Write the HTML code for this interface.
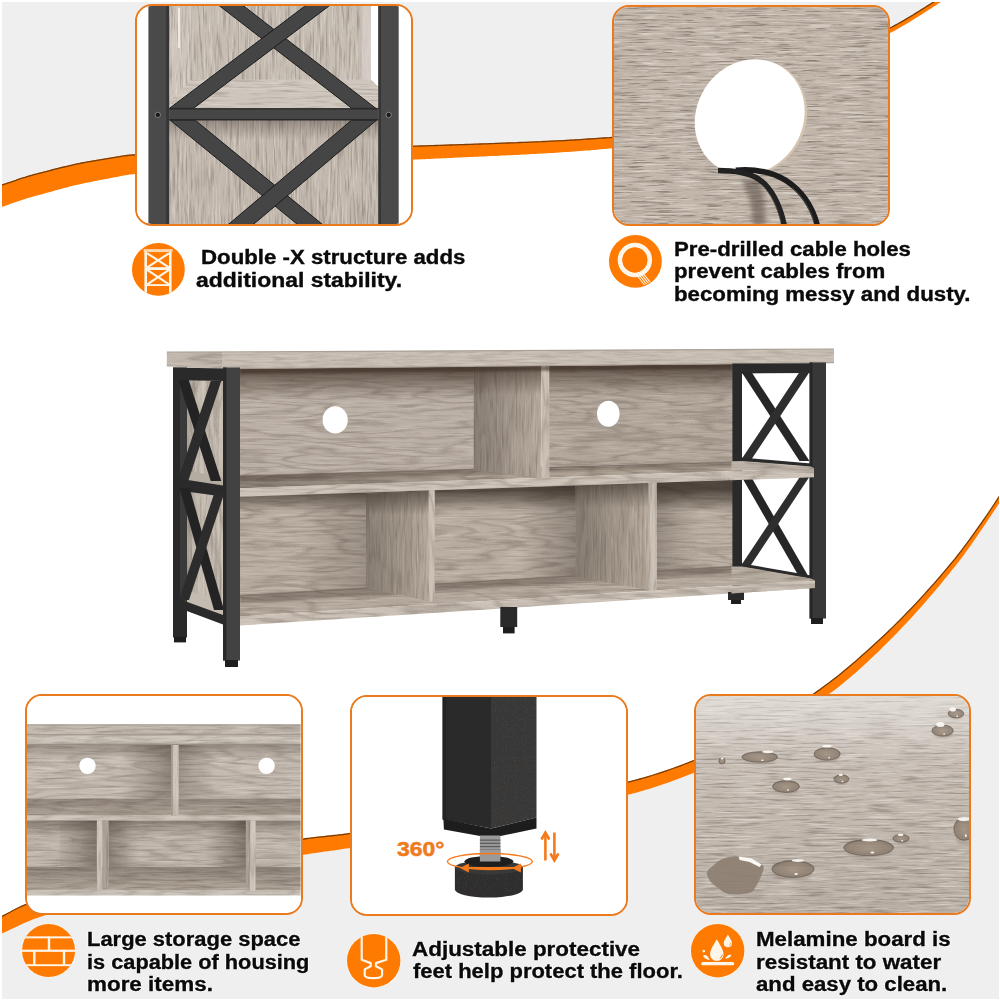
<!DOCTYPE html>
<html><head><meta charset="utf-8"><style>
*{margin:0;padding:0;box-sizing:border-box}
html,body{width:1000px;height:1000px;overflow:hidden;background:#fff}
body{position:relative;font-family:"Liberation Sans",sans-serif}
.abs{position:absolute;display:block}
.panel{position:absolute;border:2.6px solid #ea7a1c;border-radius:17px;overflow:hidden}
.panel>svg{position:absolute;left:-2.6px;top:-2.6px}
.t{position:absolute;white-space:nowrap;font-weight:bold;font-size:20.0px;line-height:20.0px;height:20.0px;color:#0a0a0a;transform-origin:0 0;letter-spacing:0;-webkit-text-stroke:0.35px #0a0a0a;text-shadow:0.8px 0 #fff,-0.8px 0 #fff,0 0.8px #fff,0 -0.8px #fff}
</style></head><body>
<svg width="0" height="0" style="position:absolute"><defs><filter id="grainH" x="0" y="0" width="1" height="1" color-interpolation-filters="sRGB">
 <feTurbulence type="fractalNoise" baseFrequency="0.03 0.45" numOctaves="3" seed="5"/>
 <feColorMatrix type="matrix" values="0 0 0 0 0.33  0 0 0 0 0.29  0 0 0 0 0.26  -3.0 0 0 0 1.55"/>
 <feComposite in2="SourceAlpha" operator="in"/>
</filter><filter id="grainH2" x="0" y="0" width="1" height="1" color-interpolation-filters="sRGB">
 <feTurbulence type="fractalNoise" baseFrequency="0.03 0.5" numOctaves="3" seed="11"/>
 <feColorMatrix type="matrix" values="0 0 0 0 0.36  0 0 0 0 0.32  0 0 0 0 0.28  -3.0 0 0 0 1.55"/>
 <feComposite in2="SourceAlpha" operator="in"/>
</filter><filter id="flecks" x="0" y="0" width="1" height="1" color-interpolation-filters="sRGB">
 <feTurbulence type="fractalNoise" baseFrequency="0.03 0.6" numOctaves="4" seed="2"/>
 <feColorMatrix type="matrix" values="0 0 0 0 0.97  0 0 0 0 0.95  0 0 0 0 0.92  3.0 0 0 0 -1.5"/>
 <feComposite in2="SourceAlpha" operator="in"/>
</filter><filter id="flecks2" x="0" y="0" width="1" height="1" color-interpolation-filters="sRGB">
 <feTurbulence type="fractalNoise" baseFrequency="0.04 0.7" numOctaves="4" seed="9"/>
 <feColorMatrix type="matrix" values="0 0 0 0 0.97  0 0 0 0 0.95  0 0 0 0 0.92  3.0 0 0 0 -1.5"/>
 <feComposite in2="SourceAlpha" operator="in"/>
</filter><filter id="grainV" x="0" y="0" width="1" height="1" color-interpolation-filters="sRGB">
 <feTurbulence type="fractalNoise" baseFrequency="0.45 0.03" numOctaves="3" seed="3"/>
 <feColorMatrix type="matrix" values="0 0 0 0 0.33  0 0 0 0 0.29  0 0 0 0 0.26  -3.0 0 0 0 1.55"/>
 <feComposite in2="SourceAlpha" operator="in"/>
</filter><filter id="flecksV" x="0" y="0" width="1" height="1" color-interpolation-filters="sRGB">
 <feTurbulence type="fractalNoise" baseFrequency="0.6 0.03" numOctaves="4" seed="4"/>
 <feColorMatrix type="matrix" values="0 0 0 0 0.97  0 0 0 0 0.95  0 0 0 0 0.92  3.0 0 0 0 -1.5"/>
 <feComposite in2="SourceAlpha" operator="in"/>
</filter><filter id="mottle" x="0" y="0" width="1" height="1" color-interpolation-filters="sRGB">
 <feTurbulence type="fractalNoise" baseFrequency="0.03 0.05" numOctaves="4" seed="7"/>
 <feColorMatrix type="matrix" values="0 0 0 0 0.25  0 0 0 0 0.22  0 0 0 0 0.19  -2.0 0 0 0 1.1"/>
 <feComposite in2="SourceAlpha" operator="in"/>
</filter><filter id="streak" x="0" y="0" width="1" height="1" color-interpolation-filters="sRGB">
 <feTurbulence type="fractalNoise" baseFrequency="0.04 0.7" numOctaves="3" seed="17"/>
 <feColorMatrix type="matrix" values="0 0 0 0 0.42  0 0 0 0 0.37  0 0 0 0 0.33  -6.0 0 0 0 2.4"/>
 <feComposite in2="SourceAlpha" operator="in"/>
</filter><filter id="figH" x="0" y="0" width="1" height="1" color-interpolation-filters="sRGB"><feTurbulence type="fractalNoise" baseFrequency="0.004 0.03" numOctaves="4" seed="9"/><feColorMatrix type="matrix" values="0 0 0 0 0.33  0 0 0 0 0.28  0 0 0 0 0.24  1 0 0 0 0"/><feComponentTransfer><feFuncA type="table" tableValues="0 0.7 0.1 0 0 0.7 0.1 0 0 0.7 0.1 0 0 0.7 0.1 0 0 0.7 0.1 0 0 0.7 0.1 0 0 0.7 0.1 0 0"/></feComponentTransfer><feComposite in2="SourceAlpha" operator="in"/></filter><filter id="figH2" x="0" y="0" width="1" height="1" color-interpolation-filters="sRGB"><feTurbulence type="fractalNoise" baseFrequency="0.005 0.035" numOctaves="4" seed="21"/><feColorMatrix type="matrix" values="0 0 0 0 0.33  0 0 0 0 0.28  0 0 0 0 0.24  1 0 0 0 0"/><feComponentTransfer><feFuncA type="table" tableValues="0 0.7 0.1 0 0 0.7 0.1 0 0 0.7 0.1 0 0 0.7 0.1 0 0 0.7 0.1 0 0 0.7 0.1 0 0 0.7 0.1 0 0"/></feComponentTransfer><feComposite in2="SourceAlpha" operator="in"/></filter><filter id="figV" x="0" y="0" width="1" height="1" color-interpolation-filters="sRGB"><feTurbulence type="fractalNoise" baseFrequency="0.03 0.004" numOctaves="4" seed="13"/><feColorMatrix type="matrix" values="0 0 0 0 0.33  0 0 0 0 0.28  0 0 0 0 0.24  1 0 0 0 0"/><feComponentTransfer><feFuncA type="table" tableValues="0 0.7 0.1 0 0 0.7 0.1 0 0 0.7 0.1 0 0 0.7 0.1 0 0 0.7 0.1 0 0 0.7 0.1 0 0 0.7 0.1 0 0"/></feComponentTransfer><feComposite in2="SourceAlpha" operator="in"/></filter><filter id="speck" x="0" y="0" width="1" height="1" color-interpolation-filters="sRGB"><feTurbulence type="fractalNoise" baseFrequency="0.9" numOctaves="2" seed="4"/><feColorMatrix type="matrix" values="0 0 0 0 0.55  0 0 0 0 0.40  0 0 0 0 0.30  4 0 0 0 -2.3"/><feComposite in2="SourceAlpha" operator="in"/></filter><filter id="blur2" x="-50%" y="-50%" width="200%" height="200%"><feGaussianBlur stdDeviation="2.5"/></filter><filter id="blur1" x="-50%" y="-50%" width="200%" height="200%"><feGaussianBlur stdDeviation="1.2"/></filter><filter id="blur4" x="-50%" y="-50%" width="200%" height="200%"><feGaussianBlur stdDeviation="4"/></filter>
<linearGradient id="shadeDown" x1="0" y1="0" x2="0" y2="1"><stop offset="0" stop-color="#3d342c" stop-opacity="0.55"/><stop offset="1" stop-color="#3d342c" stop-opacity="0"/></linearGradient>
<linearGradient id="shadeLeft" x1="1" y1="0" x2="0" y2="0"><stop offset="0" stop-color="#3d342c" stop-opacity="0.5"/><stop offset="1" stop-color="#3d342c" stop-opacity="0"/></linearGradient>
</defs></svg>
<svg class="abs" width="1000" height="1000" viewBox="0 0 1000 1000" style="left:0;top:0">
<defs><clipPath id="inner"><rect x="2" y="2" width="997" height="997"/></clipPath></defs>
<g clip-path="url(#inner)">
<path d="M-5.0,186.5 L-2.0,185.6 L1.0,184.8 L4.0,183.8 L7.0,182.8 L10.0,181.8 L13.0,180.8 L16.0,179.8 L19.0,178.7 L22.0,177.7 L25.0,176.8 L28.0,175.8 L31.0,175.0 L34.0,174.1 L37.0,173.4 L40.0,172.6 L43.0,171.8 L46.0,171.1 L49.0,170.3 L52.0,169.5 L55.0,168.7 L58.0,168.0 L61.0,167.2 L64.0,166.5 L67.0,165.8 L70.0,165.1 L73.0,164.4 L76.0,163.7 L79.0,163.1 L82.0,162.5 L85.0,161.9 L88.0,161.3 L91.0,160.8 L94.0,160.3 L97.0,159.8 L100.0,159.3 L103.0,158.8 L106.0,158.3 L109.0,157.8 L112.0,157.3 L115.0,156.8 L118.0,156.3 L121.0,155.8 L124.0,155.4 L127.0,155.0 L130.0,154.7 L133.0,154.5 L136.0,154.3 L139.0,154.1 L142.0,153.9 L145.0,153.8 L148.0,153.6 L151.0,153.4 L154.0,153.3 L157.0,153.1 L160.0,153.0 L163.0,152.8 L166.0,152.7 L169.0,152.5 L172.0,152.4 L175.0,152.3 L178.0,152.1 L181.0,152.0 L184.0,151.9 L187.0,151.8 L190.0,151.6 L193.0,151.5 L196.0,151.4 L199.0,151.3 L202.0,151.2 L205.0,151.1 L208.0,151.0 L211.0,150.9 L214.0,150.8 L217.0,150.7 L220.0,150.6 L223.0,150.5 L226.0,150.4 L229.0,150.3 L232.0,150.3 L235.0,150.2 L238.0,150.1 L241.0,150.0 L244.0,149.9 L247.0,149.9 L250.0,149.8 L253.0,149.7 L256.0,149.6 L259.0,149.6 L262.0,149.5 L265.0,149.4 L268.0,149.4 L271.0,149.3 L274.0,149.2 L277.0,149.2 L280.0,149.1 L283.0,149.0 L286.0,149.0 L289.0,148.9 L292.0,148.8 L295.0,148.8 L298.0,148.7 L301.0,148.7 L304.0,148.6 L307.0,148.5 L310.0,148.5 L313.0,148.4 L316.0,148.4 L319.0,148.3 L322.0,148.2 L325.0,148.2 L328.0,148.1 L331.0,148.0 L334.0,148.0 L337.0,147.9 L340.0,147.8 L343.0,147.8 L346.0,147.7 L349.0,147.6 L352.0,147.6 L355.0,147.5 L358.0,147.4 L361.0,147.3 L364.0,147.3 L367.0,147.2 L370.0,147.1 L373.0,147.0 L376.0,146.9 L379.0,146.9 L382.0,146.8 L385.0,146.7 L388.0,146.6 L391.0,146.5 L394.0,146.4 L397.0,146.3 L400.0,146.2 L403.0,146.1 L406.0,146.0 L409.0,145.9 L412.0,145.8 L415.0,145.7 L418.0,145.6 L421.0,145.5 L424.0,145.4 L427.0,145.3 L430.0,145.2 L433.0,145.1 L436.0,145.0 L439.0,144.9 L442.0,144.8 L445.0,144.7 L448.0,144.6 L451.0,144.5 L454.0,144.4 L457.0,144.3 L460.0,144.2 L463.0,144.1 L466.0,144.0 L469.0,143.9 L472.0,143.8 L475.0,143.7 L478.0,143.6 L481.0,143.5 L484.0,143.4 L487.0,143.3 L490.0,143.2 L493.0,143.1 L496.0,142.9 L499.0,142.8 L502.0,142.7 L505.0,142.6 L508.0,142.5 L511.0,142.4 L514.0,142.3 L517.0,142.2 L520.0,142.0 L523.0,141.9 L526.0,141.8 L529.0,141.7 L532.0,141.6 L535.0,141.4 L538.0,141.3 L541.0,141.2 L544.0,141.0 L547.0,140.9 L550.0,140.7 L553.0,140.6 L556.0,140.4 L559.0,140.3 L562.0,140.1 L565.0,140.0 L568.0,139.8 L571.0,139.6 L574.0,139.5 L577.0,139.3 L580.0,139.1 L583.0,138.9 L586.0,138.7 L589.0,138.5 L592.0,138.3 L595.0,138.1 L598.0,137.9 L601.0,137.7 L604.0,137.5 L607.0,137.3 L610.0,137.1 L613.0,136.8 L616.0,136.6 L619.0,136.3 L622.0,135.9 L625.0,135.6 L628.0,135.2 L631.0,134.7 L634.0,134.3 L637.0,133.8 L640.0,133.3 L643.0,132.7 L646.0,132.1 L649.0,131.5 L652.0,130.9 L655.0,130.2 L658.0,129.5 L661.0,128.8 L664.0,128.0 L667.0,127.3 L670.0,126.5 L673.0,125.6 L676.0,124.8 L679.0,123.9 L682.0,123.0 L685.0,122.1 L688.0,121.1 L691.0,120.2 L694.0,119.2 L697.0,118.2 L700.0,117.1 L703.0,116.1 L706.0,115.0 L709.0,113.9 L712.0,112.8 L715.0,111.7 L718.0,110.5 L721.0,109.3 L724.0,108.1 L727.0,106.9 L730.0,105.7 L733.0,104.5 L736.0,103.2 L739.0,101.9 L742.0,100.6 L745.0,99.3 L748.0,98.0 L751.0,96.7 L754.0,95.3 L757.0,94.0 L760.0,92.6 L763.0,91.2 L766.0,89.8 L769.0,88.4 L772.0,87.0 L775.0,85.6 L778.0,84.1 L781.0,82.7 L784.0,81.2 L787.0,79.8 L790.0,78.3 L793.0,76.8 L796.0,75.3 L799.0,73.8 L802.0,72.3 L805.0,70.8 L808.0,69.3 L811.0,67.8 L814.0,66.3 L817.0,64.8 L820.0,63.2 L823.0,61.7 L826.0,60.2 L829.0,58.6 L832.0,57.1 L835.0,55.5 L838.0,54.0 L841.0,52.4 L844.0,50.9 L847.0,49.4 L850.0,47.8 L853.0,46.3 L856.0,44.7 L859.0,43.2 L862.0,41.6 L865.0,40.1 L868.0,38.6 L871.0,37.1 L874.0,35.5 L877.0,34.0 L880.0,32.5 L883.0,31.0 L886.0,29.5 L889.0,28.0 L892.0,26.5 L895.0,24.9 L898.0,23.3 L901.0,21.6 L904.0,19.9 L907.0,18.1 L910.0,16.3 L913.0,14.5 L916.0,12.6 L919.0,10.8 L922.0,8.9 L925.0,7.0 L928.0,5.1 L931.0,3.2 L934.0,1.3 L937.0,-0.6 L940.0,-2.6 L943.0,-4.5 L946.0,-6.5 L949.0,-8.5 L952.0,-10.5 L955.0,-12.6 L958.0,-14.6 L960.0,-16.0 L960,-20 L-5,-20 Z" fill="#efefef"/>
<path d="M-5.0,186.5 L-2.0,185.6 L1.0,184.8 L4.0,183.8 L7.0,182.8 L10.0,181.8 L13.0,180.8 L16.0,179.8 L19.0,178.7 L22.0,177.7 L25.0,176.8 L28.0,175.8 L31.0,175.0 L34.0,174.1 L37.0,173.4 L40.0,172.6 L43.0,171.8 L46.0,171.1 L49.0,170.3 L52.0,169.5 L55.0,168.7 L58.0,168.0 L61.0,167.2 L64.0,166.5 L67.0,165.8 L70.0,165.1 L73.0,164.4 L76.0,163.7 L79.0,163.1 L82.0,162.5 L85.0,161.9 L88.0,161.3 L91.0,160.8 L94.0,160.3 L97.0,159.8 L100.0,159.3 L103.0,158.8 L106.0,158.3 L109.0,157.8 L112.0,157.3 L115.0,156.8 L118.0,156.3 L121.0,155.8 L124.0,155.4 L127.0,155.0 L130.0,154.7 L133.0,154.5 L136.0,154.3 L139.0,154.1 L142.0,153.9 L145.0,153.8 L148.0,153.6 L151.0,153.4 L154.0,153.3 L157.0,153.1 L160.0,153.0 L163.0,152.8 L166.0,152.7 L169.0,152.5 L172.0,152.4 L175.0,152.3 L178.0,152.1 L181.0,152.0 L184.0,151.9 L187.0,151.8 L190.0,151.6 L193.0,151.5 L196.0,151.4 L199.0,151.3 L202.0,151.2 L205.0,151.1 L208.0,151.0 L211.0,150.9 L214.0,150.8 L217.0,150.7 L220.0,150.6 L223.0,150.5 L226.0,150.4 L229.0,150.3 L232.0,150.3 L235.0,150.2 L238.0,150.1 L241.0,150.0 L244.0,149.9 L247.0,149.9 L250.0,149.8 L253.0,149.7 L256.0,149.6 L259.0,149.6 L262.0,149.5 L265.0,149.4 L268.0,149.4 L271.0,149.3 L274.0,149.2 L277.0,149.2 L280.0,149.1 L283.0,149.0 L286.0,149.0 L289.0,148.9 L292.0,148.8 L295.0,148.8 L298.0,148.7 L301.0,148.7 L304.0,148.6 L307.0,148.5 L310.0,148.5 L313.0,148.4 L316.0,148.4 L319.0,148.3 L322.0,148.2 L325.0,148.2 L328.0,148.1 L331.0,148.0 L334.0,148.0 L337.0,147.9 L340.0,147.8 L343.0,147.8 L346.0,147.7 L349.0,147.6 L352.0,147.6 L355.0,147.5 L358.0,147.4 L361.0,147.3 L364.0,147.3 L367.0,147.2 L370.0,147.1 L373.0,147.0 L376.0,146.9 L379.0,146.9 L382.0,146.8 L385.0,146.7 L388.0,146.6 L391.0,146.5 L394.0,146.4 L397.0,146.3 L400.0,146.2 L403.0,146.1 L406.0,146.0 L409.0,145.9 L412.0,145.8 L415.0,145.7 L418.0,145.6 L421.0,145.5 L424.0,145.4 L427.0,145.3 L430.0,145.2 L433.0,145.1 L436.0,145.0 L439.0,144.9 L442.0,144.8 L445.0,144.7 L448.0,144.6 L451.0,144.5 L454.0,144.4 L457.0,144.3 L460.0,144.2 L463.0,144.1 L466.0,144.0 L469.0,143.9 L472.0,143.8 L475.0,143.7 L478.0,143.6 L481.0,143.5 L484.0,143.4 L487.0,143.3 L490.0,143.2 L493.0,143.1 L496.0,142.9 L499.0,142.8 L502.0,142.7 L505.0,142.6 L508.0,142.5 L511.0,142.4 L514.0,142.3 L517.0,142.2 L520.0,142.0 L523.0,141.9 L526.0,141.8 L529.0,141.7 L532.0,141.6 L535.0,141.4 L538.0,141.3 L541.0,141.2 L544.0,141.0 L547.0,140.9 L550.0,140.7 L553.0,140.6 L556.0,140.4 L559.0,140.3 L562.0,140.1 L565.0,140.0 L568.0,139.8 L571.0,139.6 L574.0,139.5 L577.0,139.3 L580.0,139.1 L583.0,138.9 L586.0,138.7 L589.0,138.5 L592.0,138.3 L595.0,138.1 L598.0,137.9 L601.0,137.7 L604.0,137.5 L607.0,137.3 L610.0,137.1 L613.0,136.8 L616.0,136.6 L619.0,136.3 L622.0,135.9 L625.0,135.6 L628.0,135.2 L631.0,134.7 L634.0,134.3 L637.0,133.8 L640.0,133.3 L643.0,132.7 L646.0,132.1 L649.0,131.5 L652.0,130.9 L655.0,130.2 L658.0,129.5 L661.0,128.8 L664.0,128.0 L667.0,127.3 L670.0,126.5 L673.0,125.6 L676.0,124.8 L679.0,123.9 L682.0,123.0 L685.0,122.1 L688.0,121.1 L691.0,120.2 L694.0,119.2 L697.0,118.2 L700.0,117.1 L703.0,116.1 L706.0,115.0 L709.0,113.9 L712.0,112.8 L715.0,111.7 L718.0,110.5 L721.0,109.3 L724.0,108.1 L727.0,106.9 L730.0,105.7 L733.0,104.5 L736.0,103.2 L739.0,101.9 L742.0,100.6 L745.0,99.3 L748.0,98.0 L751.0,96.7 L754.0,95.3 L757.0,94.0 L760.0,92.6 L763.0,91.2 L766.0,89.8 L769.0,88.4 L772.0,87.0 L775.0,85.6 L778.0,84.1 L781.0,82.7 L784.0,81.2 L787.0,79.8 L790.0,78.3 L793.0,76.8 L796.0,75.3 L799.0,73.8 L802.0,72.3 L805.0,70.8 L808.0,69.3 L811.0,67.8 L814.0,66.3 L817.0,64.8 L820.0,63.2 L823.0,61.7 L826.0,60.2 L829.0,58.6 L832.0,57.1 L835.0,55.5 L838.0,54.0 L841.0,52.4 L844.0,50.9 L847.0,49.4 L850.0,47.8 L853.0,46.3 L856.0,44.7 L859.0,43.2 L862.0,41.6 L865.0,40.1 L868.0,38.6 L871.0,37.1 L874.0,35.5 L877.0,34.0 L880.0,32.5 L883.0,31.0 L886.0,29.5 L889.0,28.0 L892.0,26.5 L895.0,24.9 L898.0,23.3 L901.0,21.6 L904.0,19.9 L907.0,18.1 L910.0,16.3 L913.0,14.5 L916.0,12.6 L919.0,10.8 L922.0,8.9 L925.0,7.0 L928.0,5.1 L931.0,3.2 L934.0,1.3 L937.0,-0.6 L940.0,-2.6 L943.0,-4.5 L946.0,-6.5 L949.0,-8.5 L952.0,-10.5 L955.0,-12.6 L958.0,-14.6 L960.0,-16.0 L968.0,-16.0 L967.0,-15.3 L964.0,-13.3 L961.0,-11.2 L958.0,-9.2 L955.0,-7.2 L952.0,-5.2 L949.0,-3.2 L946.0,-1.3 L943.0,0.6 L940.0,2.6 L937.0,4.5 L934.0,6.5 L931.0,8.4 L928.0,10.3 L925.0,12.3 L922.0,14.2 L919.0,16.1 L916.0,18.0 L913.0,19.8 L910.0,21.7 L907.0,23.5 L904.0,25.3 L901.0,27.0 L898.0,28.7 L895.0,30.4 L892.0,32.0 L889.0,33.6 L886.0,35.1 L883.0,36.7 L880.0,38.3 L877.0,39.8 L874.0,41.4 L871.0,43.0 L868.0,44.6 L865.0,46.2 L862.0,47.7 L859.0,49.3 L856.0,50.9 L853.0,52.5 L850.0,54.1 L847.0,55.7 L844.0,57.3 L841.0,58.9 L838.0,60.5 L835.0,62.2 L832.0,63.8 L829.0,65.4 L826.0,67.0 L823.0,68.6 L820.0,70.1 L817.0,71.7 L814.0,73.3 L811.0,74.9 L808.0,76.5 L805.0,78.1 L802.0,79.6 L799.0,81.2 L796.0,82.8 L793.0,84.3 L790.0,85.9 L787.0,87.4 L784.0,88.9 L781.0,90.4 L778.0,91.9 L775.0,93.5 L772.0,94.9 L769.0,96.4 L766.0,97.9 L763.0,99.4 L760.0,100.8 L757.0,102.2 L754.0,103.7 L751.0,105.1 L748.0,106.5 L745.0,107.9 L742.0,109.2 L739.0,110.6 L736.0,111.9 L733.0,113.2 L730.0,114.5 L727.0,115.8 L724.0,117.1 L721.0,118.4 L718.0,119.6 L715.0,120.8 L712.0,122.0 L709.0,123.2 L706.0,124.4 L703.0,125.5 L700.0,126.6 L697.0,127.7 L694.0,128.8 L691.0,129.9 L688.0,130.9 L685.0,131.9 L682.0,132.9 L679.0,133.9 L676.0,134.8 L673.0,135.7 L670.0,136.6 L667.0,137.5 L664.0,138.3 L661.0,139.1 L658.0,139.9 L655.0,140.7 L652.0,141.4 L649.0,142.1 L646.0,142.8 L643.0,143.4 L640.0,144.1 L637.0,144.6 L634.0,145.2 L631.0,145.7 L628.0,146.2 L625.0,146.7 L622.0,147.1 L619.0,147.5 L616.0,147.9 L613.0,148.2 L610.0,148.5 L607.0,148.8 L604.0,149.1 L601.0,149.3 L598.0,149.6 L595.0,149.9 L592.0,150.1 L589.0,150.4 L586.0,150.6 L583.0,150.8 L580.0,151.1 L577.0,151.3 L574.0,151.5 L571.0,151.7 L568.0,151.9 L565.0,152.1 L562.0,152.3 L559.0,152.5 L556.0,152.7 L553.0,152.9 L550.0,153.1 L547.0,153.3 L544.0,153.4 L541.0,153.6 L538.0,153.8 L535.0,153.9 L532.0,154.1 L529.0,154.3 L526.0,154.4 L523.0,154.6 L520.0,154.7 L517.0,154.9 L514.0,155.0 L511.0,155.2 L508.0,155.3 L505.0,155.5 L502.0,155.6 L499.0,155.7 L496.0,155.9 L493.0,156.0 L490.0,156.1 L487.0,156.3 L484.0,156.4 L481.0,156.5 L478.0,156.7 L475.0,156.8 L472.0,156.9 L469.0,157.1 L466.0,157.2 L463.0,157.3 L460.0,157.5 L457.0,157.6 L454.0,157.7 L451.0,157.9 L448.0,158.0 L445.0,158.2 L442.0,158.3 L439.0,158.4 L436.0,158.6 L433.0,158.7 L430.0,158.9 L427.0,159.0 L424.0,159.2 L421.0,159.3 L418.0,159.5 L415.0,159.6 L412.0,159.8 L409.0,160.0 L406.0,160.1 L403.0,160.3 L400.0,160.4 L397.0,160.6 L394.0,160.7 L391.0,160.9 L388.0,161.0 L385.0,161.2 L382.0,161.3 L379.0,161.4 L376.0,161.6 L373.0,161.7 L370.0,161.8 L367.0,162.0 L364.0,162.1 L361.0,162.2 L358.0,162.3 L355.0,162.5 L352.0,162.6 L349.0,162.7 L346.0,162.8 L343.0,162.9 L340.0,163.1 L337.0,163.2 L334.0,163.3 L331.0,163.4 L328.0,163.5 L325.0,163.6 L322.0,163.8 L319.0,163.9 L316.0,164.0 L313.0,164.1 L310.0,164.2 L307.0,164.3 L304.0,164.4 L301.0,164.6 L298.0,164.7 L295.0,164.8 L292.0,164.9 L289.0,165.0 L286.0,165.1 L283.0,165.3 L280.0,165.4 L277.0,165.5 L274.0,165.6 L271.0,165.7 L268.0,165.9 L265.0,166.0 L262.0,166.1 L259.0,166.2 L256.0,166.4 L253.0,166.5 L250.0,166.6 L247.0,166.8 L244.0,166.9 L241.0,167.1 L238.0,167.2 L235.0,167.3 L232.0,167.5 L229.0,167.6 L226.0,167.8 L223.0,167.9 L220.0,168.1 L217.0,168.3 L214.0,168.4 L211.0,168.6 L208.0,168.8 L205.0,168.9 L202.0,169.1 L199.0,169.3 L196.0,169.5 L193.0,169.7 L190.0,169.8 L187.0,170.0 L184.0,170.2 L181.0,170.4 L178.0,170.6 L175.0,170.9 L172.0,171.1 L169.0,171.3 L166.0,171.5 L163.0,171.7 L160.0,172.0 L157.0,172.2 L154.0,172.5 L151.0,172.7 L148.0,173.0 L145.0,173.2 L142.0,173.5 L139.0,173.7 L136.0,174.0 L133.0,174.3 L130.0,174.6 L127.0,175.1 L124.0,175.6 L121.0,176.1 L118.0,176.7 L115.0,177.2 L112.0,177.8 L109.0,178.4 L106.0,179.0 L103.0,179.6 L100.0,180.1 L97.0,180.7 L94.0,181.3 L91.0,181.9 L88.0,182.5 L85.0,183.1 L82.0,183.8 L79.0,184.4 L76.0,185.1 L73.0,185.8 L70.0,186.6 L67.0,187.4 L64.0,188.1 L61.0,188.9 L58.0,189.8 L55.0,190.6 L52.0,191.4 L49.0,192.2 L46.0,193.1 L43.0,193.9 L40.0,194.7 L37.0,195.5 L34.0,196.3 L31.0,197.2 L28.0,198.1 L25.0,199.1 L22.0,200.0 L19.0,201.0 L16.0,202.1 L13.0,203.1 L10.0,204.1 L7.0,205.2 L4.0,206.2 L1.0,207.2 L-2.0,208.3 L-5.0,209.3 Z" fill="#ff7a00"/>
<path d="M-5.0,186.5 L-2.0,185.6 L1.0,184.8 L4.0,183.8 L7.0,182.8 L10.0,181.8 L13.0,180.8 L16.0,179.8 L19.0,178.7 L22.0,177.7 L25.0,176.8 L28.0,175.8 L31.0,175.0 L34.0,174.1 L37.0,173.4 L40.0,172.6 L43.0,171.8 L46.0,171.1 L49.0,170.3 L52.0,169.5 L55.0,168.7 L58.0,168.0 L61.0,167.2 L64.0,166.5 L67.0,165.8 L70.0,165.1 L73.0,164.4 L76.0,163.7 L79.0,163.1 L82.0,162.5 L85.0,161.9 L88.0,161.3 L91.0,160.8 L94.0,160.3 L97.0,159.8 L100.0,159.3 L103.0,158.8 L106.0,158.3 L109.0,157.8 L112.0,157.3 L115.0,156.8 L118.0,156.3 L121.0,155.8 L124.0,155.4 L127.0,155.0 L130.0,154.7 L133.0,154.5 L136.0,154.3 L139.0,154.1 L142.0,153.9 L145.0,153.8 L148.0,153.6 L151.0,153.4 L154.0,153.3 L157.0,153.1 L160.0,153.0 L163.0,152.8 L166.0,152.7 L169.0,152.5 L172.0,152.4 L175.0,152.3 L178.0,152.1 L181.0,152.0 L184.0,151.9 L187.0,151.8 L190.0,151.6 L193.0,151.5 L196.0,151.4 L199.0,151.3 L202.0,151.2 L205.0,151.1 L208.0,151.0 L211.0,150.9 L214.0,150.8 L217.0,150.7 L220.0,150.6 L223.0,150.5 L226.0,150.4 L229.0,150.3 L232.0,150.3 L235.0,150.2 L238.0,150.1 L241.0,150.0 L244.0,149.9 L247.0,149.9 L250.0,149.8 L253.0,149.7 L256.0,149.6 L259.0,149.6 L262.0,149.5 L265.0,149.4 L268.0,149.4 L271.0,149.3 L274.0,149.2 L277.0,149.2 L280.0,149.1 L283.0,149.0 L286.0,149.0 L289.0,148.9 L292.0,148.8 L295.0,148.8 L298.0,148.7 L301.0,148.7 L304.0,148.6 L307.0,148.5 L310.0,148.5 L313.0,148.4 L316.0,148.4 L319.0,148.3 L322.0,148.2 L325.0,148.2 L328.0,148.1 L331.0,148.0 L334.0,148.0 L337.0,147.9 L340.0,147.8 L343.0,147.8 L346.0,147.7 L349.0,147.6 L352.0,147.6 L355.0,147.5 L358.0,147.4 L361.0,147.3 L364.0,147.3 L367.0,147.2 L370.0,147.1 L373.0,147.0 L376.0,146.9 L379.0,146.9 L382.0,146.8 L385.0,146.7 L388.0,146.6 L391.0,146.5 L394.0,146.4 L397.0,146.3 L400.0,146.2 L403.0,146.1 L406.0,146.0 L409.0,145.9 L412.0,145.8 L415.0,145.7 L418.0,145.6 L421.0,145.5 L424.0,145.4 L427.0,145.3 L430.0,145.2 L433.0,145.1 L436.0,145.0 L439.0,144.9 L442.0,144.8 L445.0,144.7 L448.0,144.6 L451.0,144.5 L454.0,144.4 L457.0,144.3 L460.0,144.2 L463.0,144.1 L466.0,144.0 L469.0,143.9 L472.0,143.8 L475.0,143.7 L478.0,143.6 L481.0,143.5 L484.0,143.4 L487.0,143.3 L490.0,143.2 L493.0,143.1 L496.0,142.9 L499.0,142.8 L502.0,142.7 L505.0,142.6 L508.0,142.5 L511.0,142.4 L514.0,142.3 L517.0,142.2 L520.0,142.0 L523.0,141.9 L526.0,141.8 L529.0,141.7 L532.0,141.6 L535.0,141.4 L538.0,141.3 L541.0,141.2 L544.0,141.0 L547.0,140.9 L550.0,140.7 L553.0,140.6 L556.0,140.4 L559.0,140.3 L562.0,140.1 L565.0,140.0 L568.0,139.8 L571.0,139.6 L574.0,139.5 L577.0,139.3 L580.0,139.1 L583.0,138.9 L586.0,138.7 L589.0,138.5 L592.0,138.3 L595.0,138.1 L598.0,137.9 L601.0,137.7 L604.0,137.5 L607.0,137.3 L610.0,137.1 L613.0,136.8 L616.0,136.6 L619.0,136.3 L622.0,135.9 L625.0,135.6 L628.0,135.2 L631.0,134.7 L634.0,134.3 L637.0,133.8 L640.0,133.3 L643.0,132.7 L646.0,132.1 L649.0,131.5 L652.0,130.9 L655.0,130.2 L658.0,129.5 L661.0,128.8 L664.0,128.0 L667.0,127.3 L670.0,126.5 L673.0,125.6 L676.0,124.8 L679.0,123.9 L682.0,123.0 L685.0,122.1 L688.0,121.1 L691.0,120.2 L694.0,119.2 L697.0,118.2 L700.0,117.1 L703.0,116.1 L706.0,115.0 L709.0,113.9 L712.0,112.8 L715.0,111.7 L718.0,110.5 L721.0,109.3 L724.0,108.1 L727.0,106.9 L730.0,105.7 L733.0,104.5 L736.0,103.2 L739.0,101.9 L742.0,100.6 L745.0,99.3 L748.0,98.0 L751.0,96.7 L754.0,95.3 L757.0,94.0 L760.0,92.6 L763.0,91.2 L766.0,89.8 L769.0,88.4 L772.0,87.0 L775.0,85.6 L778.0,84.1 L781.0,82.7 L784.0,81.2 L787.0,79.8 L790.0,78.3 L793.0,76.8 L796.0,75.3 L799.0,73.8 L802.0,72.3 L805.0,70.8 L808.0,69.3 L811.0,67.8 L814.0,66.3 L817.0,64.8 L820.0,63.2 L823.0,61.7 L826.0,60.2 L829.0,58.6 L832.0,57.1 L835.0,55.5 L838.0,54.0 L841.0,52.4 L844.0,50.9 L847.0,49.4 L850.0,47.8 L853.0,46.3 L856.0,44.7 L859.0,43.2 L862.0,41.6 L865.0,40.1 L868.0,38.6 L871.0,37.1 L874.0,35.5 L877.0,34.0 L880.0,32.5 L883.0,31.0 L886.0,29.5 L889.0,28.0 L892.0,26.5 L895.0,24.9 L898.0,23.3 L901.0,21.6 L904.0,19.9 L907.0,18.1 L910.0,16.3 L913.0,14.5 L916.0,12.6 L919.0,10.8 L922.0,8.9 L925.0,7.0 L928.0,5.1 L931.0,3.2 L934.0,1.3 L937.0,-0.6 L940.0,-2.6 L943.0,-4.5 L946.0,-6.5 L949.0,-8.5 L952.0,-10.5 L955.0,-12.6 L958.0,-14.6 L960.0,-16.0" fill="none" stroke="#7a3d08" stroke-width="1.3" transform="translate(0,0.5)"/>
<path d="M-5.0,937.0 L-2.0,935.5 L1.0,934.0 L4.0,932.6 L7.0,931.2 L10.0,929.7 L13.0,928.3 L16.0,926.9 L19.0,925.5 L22.0,924.1 L25.0,922.8 L28.0,921.5 L31.0,920.3 L34.0,919.1 L37.0,918.0 L40.0,917.0 L43.0,916.0 L46.0,915.0 L49.0,914.1 L52.0,913.1 L55.0,912.1 L58.0,911.2 L61.0,910.3 L64.0,909.3 L67.0,908.4 L70.0,907.5 L73.0,906.6 L76.0,905.7 L79.0,904.8 L82.0,903.9 L85.0,903.0 L88.0,902.2 L91.0,901.3 L94.0,900.4 L97.0,899.6 L100.0,898.8 L103.0,897.9 L106.0,897.1 L109.0,896.3 L112.0,895.5 L115.0,894.7 L118.0,893.9 L121.0,893.1 L124.0,892.3 L127.0,891.5 L130.0,890.8 L133.0,890.0 L136.0,889.2 L139.0,888.5 L142.0,887.7 L145.0,887.0 L148.0,886.3 L151.0,885.5 L154.0,884.8 L157.0,884.1 L160.0,883.4 L163.0,882.7 L166.0,882.0 L169.0,881.3 L172.0,880.6 L175.0,879.9 L178.0,879.2 L181.0,878.6 L184.0,877.9 L187.0,877.2 L190.0,876.6 L193.0,875.9 L196.0,875.3 L199.0,874.7 L202.0,874.0 L205.0,873.4 L208.0,872.8 L211.0,872.1 L214.0,871.5 L217.0,870.9 L220.0,870.3 L223.0,869.7 L226.0,869.1 L229.0,868.5 L232.0,867.9 L235.0,867.3 L238.0,866.7 L241.0,866.1 L244.0,865.6 L247.0,865.0 L250.0,864.4 L253.0,863.9 L256.0,863.3 L259.0,862.7 L262.0,862.2 L265.0,861.6 L268.0,861.1 L271.0,860.5 L274.0,860.0 L277.0,859.5 L280.0,858.9 L283.0,858.4 L286.0,857.9 L289.0,857.3 L292.0,856.8 L295.0,856.3 L298.0,855.8 L301.0,855.2 L304.0,854.7 L307.0,854.2 L310.0,853.8 L313.0,853.3 L316.0,852.9 L319.0,852.4 L322.0,852.0 L325.0,851.6 L328.0,851.2 L331.0,850.8 L334.0,850.4 L337.0,849.9 L340.0,849.5 L343.0,849.1 L346.0,848.6 L349.0,848.2 L352.0,847.7 L355.0,847.2 L358.0,846.7 L361.0,846.2 L364.0,845.7 L367.0,845.3 L370.0,844.8 L373.0,844.3 L376.0,843.8 L379.0,843.3 L382.0,842.9 L385.0,842.4 L388.0,841.9 L391.0,841.4 L394.0,840.9 L397.0,840.4 L400.0,839.9 L403.0,839.5 L406.0,839.0 L409.0,838.5 L412.0,838.0 L415.0,837.5 L418.0,837.0 L421.0,836.5 L424.0,836.0 L427.0,835.5 L430.0,835.0 L433.0,834.5 L436.0,834.0 L439.0,833.5 L442.0,833.0 L445.0,832.5 L448.0,832.0 L451.0,831.5 L454.0,831.0 L457.0,830.4 L460.0,829.9 L463.0,829.4 L466.0,828.9 L469.0,828.3 L472.0,827.8 L475.0,827.3 L478.0,826.8 L481.0,826.2 L484.0,825.7 L487.0,825.1 L490.0,824.6 L493.0,824.0 L496.0,823.5 L499.0,822.9 L502.0,822.4 L505.0,821.8 L508.0,821.2 L511.0,820.7 L514.0,820.1 L517.0,819.5 L520.0,818.9 L523.0,818.3 L526.0,817.8 L529.0,817.2 L532.0,816.6 L535.0,816.0 L538.0,815.4 L541.0,814.8 L544.0,814.1 L547.0,813.5 L550.0,812.9 L553.0,812.3 L556.0,811.6 L559.0,811.0 L562.0,810.3 L565.0,809.7 L568.0,809.0 L571.0,808.4 L574.0,807.7 L577.0,807.1 L580.0,806.4 L583.0,805.7 L586.0,805.0 L589.0,804.3 L592.0,803.6 L595.0,802.9 L598.0,802.2 L601.0,801.5 L604.0,800.8 L607.0,800.1 L610.0,799.3 L613.0,798.6 L616.0,797.8 L619.0,797.1 L622.0,796.3 L625.0,795.6 L628.0,794.8 L631.0,794.0 L634.0,793.2 L637.0,792.4 L640.0,791.5 L643.0,790.7 L646.0,789.8 L649.0,788.9 L652.0,787.9 L655.0,787.0 L658.0,786.0 L661.0,785.0 L664.0,784.0 L667.0,783.0 L670.0,781.9 L673.0,780.8 L676.0,779.7 L679.0,778.6 L682.0,777.5 L685.0,776.3 L688.0,775.1 L691.0,773.9 L694.0,772.7 L697.0,771.4 L700.0,770.2 L703.0,768.9 L706.0,767.5 L709.0,766.2 L712.0,764.8 L715.0,763.4 L718.0,762.0 L721.0,760.5 L724.0,759.0 L727.0,757.5 L730.0,756.0 L733.0,754.4 L736.0,752.9 L739.0,751.3 L742.0,749.6 L745.0,748.0 L748.0,746.3 L751.0,744.6 L754.0,742.9 L757.0,741.2 L760.0,739.4 L763.0,737.7 L766.0,735.9 L769.0,734.1 L772.0,732.2 L775.0,730.4 L778.0,728.5 L781.0,726.6 L784.0,724.7 L787.0,722.8 L790.0,720.9 L793.0,718.9 L796.0,716.9 L799.0,714.9 L802.0,712.9 L805.0,710.9 L808.0,708.9 L811.0,706.8 L814.0,704.7 L817.0,702.6 L820.0,700.5 L823.0,698.4 L826.0,696.3 L829.0,694.1 L832.0,692.0 L835.0,689.7 L838.0,687.4 L841.0,685.0 L844.0,682.6 L847.0,680.1 L850.0,677.6 L853.0,675.0 L856.0,672.4 L859.0,669.7 L862.0,667.0 L865.0,664.2 L868.0,661.4 L871.0,658.6 L874.0,655.8 L877.0,652.9 L880.0,650.0 L883.0,647.1 L886.0,644.1 L889.0,641.1 L892.0,638.1 L895.0,635.0 L898.0,631.9 L901.0,628.8 L904.0,625.6 L907.0,622.4 L910.0,619.2 L913.0,615.9 L916.0,612.6 L919.0,609.3 L922.0,605.9 L925.0,602.5 L928.0,599.0 L931.0,595.5 L934.0,592.0 L937.0,588.5 L940.0,584.9 L943.0,581.2 L946.0,577.6 L949.0,573.9 L952.0,570.1 L955.0,566.4 L958.0,562.6 L961.0,558.7 L964.0,554.7 L967.0,550.6 L970.0,546.4 L973.0,542.1 L976.0,537.7 L979.0,533.3 L982.0,528.9 L985.0,524.4 L988.0,520.0 L991.0,515.6 L994.0,511.0 L997.0,506.5 L1000.0,502.0 L1003.0,497.5 L1006.0,493.0 L1009.0,488.5 L1010.0,487.0 L1010,1010 L-5,1010 Z" fill="#efefef"/>
<path d="M-5.0,919.5 L-2.0,918.0 L1.0,916.5 L4.0,914.9 L7.0,913.3 L10.0,911.7 L13.0,910.0 L16.0,908.5 L19.0,907.0 L22.0,905.6 L25.0,904.4 L28.0,903.3 L31.0,902.2 L34.0,901.2 L37.0,900.1 L40.0,899.1 L43.0,898.1 L46.0,897.1 L49.0,896.1 L52.0,895.1 L55.0,894.1 L58.0,893.1 L61.0,892.2 L64.0,891.2 L67.0,890.3 L70.0,889.3 L73.0,888.4 L76.0,887.5 L79.0,886.6 L82.0,885.7 L85.0,884.8 L88.0,883.9 L91.0,883.0 L94.0,882.2 L97.0,881.3 L100.0,880.4 L103.0,879.6 L106.0,878.8 L109.0,877.9 L112.0,877.1 L115.0,876.3 L118.0,875.5 L121.0,874.7 L124.0,873.9 L127.0,873.1 L130.0,872.4 L133.0,871.6 L136.0,870.8 L139.0,870.1 L142.0,869.3 L145.0,868.6 L148.0,867.9 L151.0,867.2 L154.0,866.4 L157.0,865.7 L160.0,865.0 L163.0,864.3 L166.0,863.6 L169.0,863.0 L172.0,862.3 L175.0,861.6 L178.0,861.0 L181.0,860.3 L184.0,859.7 L187.0,859.0 L190.0,858.4 L193.0,857.8 L196.0,857.1 L199.0,856.5 L202.0,855.9 L205.0,855.3 L208.0,854.7 L211.0,854.1 L214.0,853.5 L217.0,853.0 L220.0,852.4 L223.0,851.8 L226.0,851.3 L229.0,850.7 L232.0,850.2 L235.0,849.6 L238.0,849.1 L241.0,848.5 L244.0,848.0 L247.0,847.5 L250.0,847.0 L253.0,846.5 L256.0,845.9 L259.0,845.4 L262.0,844.9 L265.0,844.5 L268.0,844.0 L271.0,843.5 L274.0,843.0 L277.0,842.5 L280.0,842.1 L283.0,841.6 L286.0,841.1 L289.0,840.7 L292.0,840.2 L295.0,839.8 L298.0,839.3 L301.0,838.9 L304.0,838.5 L307.0,838.0 L310.0,837.7 L313.0,837.3 L316.0,836.9 L319.0,836.6 L322.0,836.3 L325.0,836.0 L328.0,835.6 L331.0,835.3 L334.0,835.0 L337.0,834.7 L340.0,834.3 L343.0,834.0 L346.0,833.6 L349.0,833.2 L352.0,832.8 L355.0,832.4 L358.0,832.0 L361.0,831.6 L364.0,831.2 L367.0,830.8 L370.0,830.3 L373.0,829.9 L376.0,829.5 L379.0,829.1 L382.0,828.6 L385.0,828.2 L388.0,827.8 L391.0,827.3 L394.0,826.9 L397.0,826.4 L400.0,826.0 L403.0,825.5 L406.0,825.1 L409.0,824.6 L412.0,824.2 L415.0,823.7 L418.0,823.3 L421.0,822.8 L424.0,822.3 L427.0,821.8 L430.0,821.4 L433.0,820.9 L436.0,820.4 L439.0,819.9 L442.0,819.4 L445.0,819.0 L448.0,818.5 L451.0,818.0 L454.0,817.5 L457.0,817.0 L460.0,816.5 L463.0,816.0 L466.0,815.4 L469.0,814.9 L472.0,814.4 L475.0,813.9 L478.0,813.4 L481.0,812.8 L484.0,812.3 L487.0,811.8 L490.0,811.2 L493.0,810.7 L496.0,810.1 L499.0,809.6 L502.0,809.0 L505.0,808.5 L508.0,807.9 L511.0,807.3 L514.0,806.8 L517.0,806.2 L520.0,805.6 L523.0,805.0 L526.0,804.4 L529.0,803.8 L532.0,803.2 L535.0,802.6 L538.0,802.0 L541.0,801.4 L544.0,800.8 L547.0,800.2 L550.0,799.6 L553.0,798.9 L556.0,798.3 L559.0,797.7 L562.0,797.0 L565.0,796.4 L568.0,795.7 L571.0,795.1 L574.0,794.4 L577.0,793.8 L580.0,793.1 L583.0,792.4 L586.0,791.7 L589.0,791.0 L592.0,790.4 L595.0,789.7 L598.0,789.0 L601.0,788.3 L604.0,787.6 L607.0,786.8 L610.0,786.1 L613.0,785.4 L616.0,784.7 L619.0,783.9 L622.0,783.2 L625.0,782.5 L628.0,781.7 L631.0,780.9 L634.0,780.1 L637.0,779.3 L640.0,778.5 L643.0,777.7 L646.0,776.8 L649.0,775.9 L652.0,775.0 L655.0,774.0 L658.0,773.1 L661.0,772.1 L664.0,771.1 L667.0,770.1 L670.0,769.0 L673.0,768.0 L676.0,766.9 L679.0,765.8 L682.0,764.7 L685.0,763.5 L688.0,762.4 L691.0,761.2 L694.0,760.0 L697.0,758.8 L700.0,757.5 L703.0,756.2 L706.0,754.9 L709.0,753.6 L712.0,752.2 L715.0,750.9 L718.0,749.5 L721.0,748.0 L724.0,746.6 L727.0,745.1 L730.0,743.6 L733.0,742.0 L736.0,740.5 L739.0,738.9 L742.0,737.3 L745.0,735.7 L748.0,734.0 L751.0,732.4 L754.0,730.7 L757.0,729.0 L760.0,727.3 L763.0,725.5 L766.0,723.8 L769.0,722.0 L772.0,720.2 L775.0,718.3 L778.0,716.5 L781.0,714.7 L784.0,712.8 L787.0,710.9 L790.0,709.0 L793.0,707.1 L796.0,705.1 L799.0,703.2 L802.0,701.2 L805.0,699.2 L808.0,697.2 L811.0,695.2 L814.0,693.2 L817.0,691.1 L820.0,689.0 L823.0,686.8 L826.0,684.6 L829.0,682.4 L832.0,680.1 L835.0,677.7 L838.0,675.4 L841.0,673.0 L844.0,670.5 L847.0,668.0 L850.0,665.5 L853.0,663.0 L856.0,660.4 L859.0,657.8 L862.0,655.1 L865.0,652.5 L868.0,649.8 L871.0,647.1 L874.0,644.3 L877.0,641.6 L880.0,638.8 L883.0,636.0 L886.0,633.2 L889.0,630.3 L892.0,627.4 L895.0,624.4 L898.0,621.5 L901.0,618.5 L904.0,615.4 L907.0,612.3 L910.0,609.2 L913.0,606.1 L916.0,602.9 L919.0,599.7 L922.0,596.4 L925.0,593.1 L928.0,589.8 L931.0,586.4 L934.0,583.1 L937.0,579.6 L940.0,576.2 L943.0,572.7 L946.0,569.1 L949.0,565.5 L952.0,561.9 L955.0,558.3 L958.0,554.5 L961.0,550.7 L964.0,546.7 L967.0,542.7 L970.0,538.6 L973.0,534.4 L976.0,530.2 L979.0,526.0 L982.0,521.7 L985.0,517.4 L988.0,513.0 L991.0,508.5 L994.0,504.0 L997.0,499.4 L1000.0,494.8 L1003.0,490.1 L1006.0,485.4 L1009.0,480.6 L1010.0,479.0 L1010.0,487.0 L1009.0,488.5 L1006.0,493.0 L1003.0,497.5 L1000.0,502.0 L997.0,506.5 L994.0,511.0 L991.0,515.6 L988.0,520.0 L985.0,524.4 L982.0,528.9 L979.0,533.3 L976.0,537.7 L973.0,542.1 L970.0,546.4 L967.0,550.6 L964.0,554.7 L961.0,558.7 L958.0,562.6 L955.0,566.4 L952.0,570.1 L949.0,573.9 L946.0,577.6 L943.0,581.2 L940.0,584.9 L937.0,588.5 L934.0,592.0 L931.0,595.5 L928.0,599.0 L925.0,602.5 L922.0,605.9 L919.0,609.3 L916.0,612.6 L913.0,615.9 L910.0,619.2 L907.0,622.4 L904.0,625.6 L901.0,628.8 L898.0,631.9 L895.0,635.0 L892.0,638.1 L889.0,641.1 L886.0,644.1 L883.0,647.1 L880.0,650.0 L877.0,652.9 L874.0,655.8 L871.0,658.6 L868.0,661.4 L865.0,664.2 L862.0,667.0 L859.0,669.7 L856.0,672.4 L853.0,675.0 L850.0,677.6 L847.0,680.1 L844.0,682.6 L841.0,685.0 L838.0,687.4 L835.0,689.7 L832.0,692.0 L829.0,694.1 L826.0,696.3 L823.0,698.4 L820.0,700.5 L817.0,702.6 L814.0,704.7 L811.0,706.8 L808.0,708.9 L805.0,710.9 L802.0,712.9 L799.0,714.9 L796.0,716.9 L793.0,718.9 L790.0,720.9 L787.0,722.8 L784.0,724.7 L781.0,726.6 L778.0,728.5 L775.0,730.4 L772.0,732.2 L769.0,734.1 L766.0,735.9 L763.0,737.7 L760.0,739.4 L757.0,741.2 L754.0,742.9 L751.0,744.6 L748.0,746.3 L745.0,748.0 L742.0,749.6 L739.0,751.3 L736.0,752.9 L733.0,754.4 L730.0,756.0 L727.0,757.5 L724.0,759.0 L721.0,760.5 L718.0,762.0 L715.0,763.4 L712.0,764.8 L709.0,766.2 L706.0,767.5 L703.0,768.9 L700.0,770.2 L697.0,771.4 L694.0,772.7 L691.0,773.9 L688.0,775.1 L685.0,776.3 L682.0,777.5 L679.0,778.6 L676.0,779.7 L673.0,780.8 L670.0,781.9 L667.0,783.0 L664.0,784.0 L661.0,785.0 L658.0,786.0 L655.0,787.0 L652.0,787.9 L649.0,788.9 L646.0,789.8 L643.0,790.7 L640.0,791.5 L637.0,792.4 L634.0,793.2 L631.0,794.0 L628.0,794.8 L625.0,795.6 L622.0,796.3 L619.0,797.1 L616.0,797.8 L613.0,798.6 L610.0,799.3 L607.0,800.1 L604.0,800.8 L601.0,801.5 L598.0,802.2 L595.0,802.9 L592.0,803.6 L589.0,804.3 L586.0,805.0 L583.0,805.7 L580.0,806.4 L577.0,807.1 L574.0,807.7 L571.0,808.4 L568.0,809.0 L565.0,809.7 L562.0,810.3 L559.0,811.0 L556.0,811.6 L553.0,812.3 L550.0,812.9 L547.0,813.5 L544.0,814.1 L541.0,814.8 L538.0,815.4 L535.0,816.0 L532.0,816.6 L529.0,817.2 L526.0,817.8 L523.0,818.3 L520.0,818.9 L517.0,819.5 L514.0,820.1 L511.0,820.7 L508.0,821.2 L505.0,821.8 L502.0,822.4 L499.0,822.9 L496.0,823.5 L493.0,824.0 L490.0,824.6 L487.0,825.1 L484.0,825.7 L481.0,826.2 L478.0,826.8 L475.0,827.3 L472.0,827.8 L469.0,828.3 L466.0,828.9 L463.0,829.4 L460.0,829.9 L457.0,830.4 L454.0,831.0 L451.0,831.5 L448.0,832.0 L445.0,832.5 L442.0,833.0 L439.0,833.5 L436.0,834.0 L433.0,834.5 L430.0,835.0 L427.0,835.5 L424.0,836.0 L421.0,836.5 L418.0,837.0 L415.0,837.5 L412.0,838.0 L409.0,838.5 L406.0,839.0 L403.0,839.5 L400.0,839.9 L397.0,840.4 L394.0,840.9 L391.0,841.4 L388.0,841.9 L385.0,842.4 L382.0,842.9 L379.0,843.3 L376.0,843.8 L373.0,844.3 L370.0,844.8 L367.0,845.3 L364.0,845.7 L361.0,846.2 L358.0,846.7 L355.0,847.2 L352.0,847.7 L349.0,848.2 L346.0,848.6 L343.0,849.1 L340.0,849.5 L337.0,849.9 L334.0,850.4 L331.0,850.8 L328.0,851.2 L325.0,851.6 L322.0,852.0 L319.0,852.4 L316.0,852.9 L313.0,853.3 L310.0,853.8 L307.0,854.2 L304.0,854.7 L301.0,855.2 L298.0,855.8 L295.0,856.3 L292.0,856.8 L289.0,857.3 L286.0,857.9 L283.0,858.4 L280.0,858.9 L277.0,859.5 L274.0,860.0 L271.0,860.5 L268.0,861.1 L265.0,861.6 L262.0,862.2 L259.0,862.7 L256.0,863.3 L253.0,863.9 L250.0,864.4 L247.0,865.0 L244.0,865.6 L241.0,866.1 L238.0,866.7 L235.0,867.3 L232.0,867.9 L229.0,868.5 L226.0,869.1 L223.0,869.7 L220.0,870.3 L217.0,870.9 L214.0,871.5 L211.0,872.1 L208.0,872.8 L205.0,873.4 L202.0,874.0 L199.0,874.7 L196.0,875.3 L193.0,875.9 L190.0,876.6 L187.0,877.2 L184.0,877.9 L181.0,878.6 L178.0,879.2 L175.0,879.9 L172.0,880.6 L169.0,881.3 L166.0,882.0 L163.0,882.7 L160.0,883.4 L157.0,884.1 L154.0,884.8 L151.0,885.5 L148.0,886.3 L145.0,887.0 L142.0,887.7 L139.0,888.5 L136.0,889.2 L133.0,890.0 L130.0,890.8 L127.0,891.5 L124.0,892.3 L121.0,893.1 L118.0,893.9 L115.0,894.7 L112.0,895.5 L109.0,896.3 L106.0,897.1 L103.0,897.9 L100.0,898.8 L97.0,899.6 L94.0,900.4 L91.0,901.3 L88.0,902.2 L85.0,903.0 L82.0,903.9 L79.0,904.8 L76.0,905.7 L73.0,906.6 L70.0,907.5 L67.0,908.4 L64.0,909.3 L61.0,910.3 L58.0,911.2 L55.0,912.1 L52.0,913.1 L49.0,914.1 L46.0,915.0 L43.0,916.0 L40.0,917.0 L37.0,918.0 L34.0,919.1 L31.0,920.3 L28.0,921.5 L25.0,922.8 L22.0,924.1 L19.0,925.5 L16.0,926.9 L13.0,928.3 L10.0,929.7 L7.0,931.2 L4.0,932.6 L1.0,934.0 L-2.0,935.5 L-5.0,937.0 Z" fill="#ff7a00"/>
<path d="M-5.0,919.5 L-2.0,918.0 L1.0,916.5 L4.0,914.9 L7.0,913.3 L10.0,911.7 L13.0,910.0 L16.0,908.5 L19.0,907.0 L22.0,905.6 L25.0,904.4 L28.0,903.3 L31.0,902.2 L34.0,901.2 L37.0,900.1 L40.0,899.1 L43.0,898.1 L46.0,897.1 L49.0,896.1 L52.0,895.1 L55.0,894.1 L58.0,893.1 L61.0,892.2 L64.0,891.2 L67.0,890.3 L70.0,889.3 L73.0,888.4 L76.0,887.5 L79.0,886.6 L82.0,885.7 L85.0,884.8 L88.0,883.9 L91.0,883.0 L94.0,882.2 L97.0,881.3 L100.0,880.4 L103.0,879.6 L106.0,878.8 L109.0,877.9 L112.0,877.1 L115.0,876.3 L118.0,875.5 L121.0,874.7 L124.0,873.9 L127.0,873.1 L130.0,872.4 L133.0,871.6 L136.0,870.8 L139.0,870.1 L142.0,869.3 L145.0,868.6 L148.0,867.9 L151.0,867.2 L154.0,866.4 L157.0,865.7 L160.0,865.0 L163.0,864.3 L166.0,863.6 L169.0,863.0 L172.0,862.3 L175.0,861.6 L178.0,861.0 L181.0,860.3 L184.0,859.7 L187.0,859.0 L190.0,858.4 L193.0,857.8 L196.0,857.1 L199.0,856.5 L202.0,855.9 L205.0,855.3 L208.0,854.7 L211.0,854.1 L214.0,853.5 L217.0,853.0 L220.0,852.4 L223.0,851.8 L226.0,851.3 L229.0,850.7 L232.0,850.2 L235.0,849.6 L238.0,849.1 L241.0,848.5 L244.0,848.0 L247.0,847.5 L250.0,847.0 L253.0,846.5 L256.0,845.9 L259.0,845.4 L262.0,844.9 L265.0,844.5 L268.0,844.0 L271.0,843.5 L274.0,843.0 L277.0,842.5 L280.0,842.1 L283.0,841.6 L286.0,841.1 L289.0,840.7 L292.0,840.2 L295.0,839.8 L298.0,839.3 L301.0,838.9 L304.0,838.5 L307.0,838.0 L310.0,837.7 L313.0,837.3 L316.0,836.9 L319.0,836.6 L322.0,836.3 L325.0,836.0 L328.0,835.6 L331.0,835.3 L334.0,835.0 L337.0,834.7 L340.0,834.3 L343.0,834.0 L346.0,833.6 L349.0,833.2 L352.0,832.8 L355.0,832.4 L358.0,832.0 L361.0,831.6 L364.0,831.2 L367.0,830.8 L370.0,830.3 L373.0,829.9 L376.0,829.5 L379.0,829.1 L382.0,828.6 L385.0,828.2 L388.0,827.8 L391.0,827.3 L394.0,826.9 L397.0,826.4 L400.0,826.0 L403.0,825.5 L406.0,825.1 L409.0,824.6 L412.0,824.2 L415.0,823.7 L418.0,823.3 L421.0,822.8 L424.0,822.3 L427.0,821.8 L430.0,821.4 L433.0,820.9 L436.0,820.4 L439.0,819.9 L442.0,819.4 L445.0,819.0 L448.0,818.5 L451.0,818.0 L454.0,817.5 L457.0,817.0 L460.0,816.5 L463.0,816.0 L466.0,815.4 L469.0,814.9 L472.0,814.4 L475.0,813.9 L478.0,813.4 L481.0,812.8 L484.0,812.3 L487.0,811.8 L490.0,811.2 L493.0,810.7 L496.0,810.1 L499.0,809.6 L502.0,809.0 L505.0,808.5 L508.0,807.9 L511.0,807.3 L514.0,806.8 L517.0,806.2 L520.0,805.6 L523.0,805.0 L526.0,804.4 L529.0,803.8 L532.0,803.2 L535.0,802.6 L538.0,802.0 L541.0,801.4 L544.0,800.8 L547.0,800.2 L550.0,799.6 L553.0,798.9 L556.0,798.3 L559.0,797.7 L562.0,797.0 L565.0,796.4 L568.0,795.7 L571.0,795.1 L574.0,794.4 L577.0,793.8 L580.0,793.1 L583.0,792.4 L586.0,791.7 L589.0,791.0 L592.0,790.4 L595.0,789.7 L598.0,789.0 L601.0,788.3 L604.0,787.6 L607.0,786.8 L610.0,786.1 L613.0,785.4 L616.0,784.7 L619.0,783.9 L622.0,783.2 L625.0,782.5 L628.0,781.7 L631.0,780.9 L634.0,780.1 L637.0,779.3 L640.0,778.5 L643.0,777.7 L646.0,776.8 L649.0,775.9 L652.0,775.0 L655.0,774.0 L658.0,773.1 L661.0,772.1 L664.0,771.1 L667.0,770.1 L670.0,769.0 L673.0,768.0 L676.0,766.9 L679.0,765.8 L682.0,764.7 L685.0,763.5 L688.0,762.4 L691.0,761.2 L694.0,760.0 L697.0,758.8 L700.0,757.5 L703.0,756.2 L706.0,754.9 L709.0,753.6 L712.0,752.2 L715.0,750.9 L718.0,749.5 L721.0,748.0 L724.0,746.6 L727.0,745.1 L730.0,743.6 L733.0,742.0 L736.0,740.5 L739.0,738.9 L742.0,737.3 L745.0,735.7 L748.0,734.0 L751.0,732.4 L754.0,730.7 L757.0,729.0 L760.0,727.3 L763.0,725.5 L766.0,723.8 L769.0,722.0 L772.0,720.2 L775.0,718.3 L778.0,716.5 L781.0,714.7 L784.0,712.8 L787.0,710.9 L790.0,709.0 L793.0,707.1 L796.0,705.1 L799.0,703.2 L802.0,701.2 L805.0,699.2 L808.0,697.2 L811.0,695.2 L814.0,693.2 L817.0,691.1 L820.0,689.0 L823.0,686.8 L826.0,684.6 L829.0,682.4 L832.0,680.1 L835.0,677.7 L838.0,675.4 L841.0,673.0 L844.0,670.5 L847.0,668.0 L850.0,665.5 L853.0,663.0 L856.0,660.4 L859.0,657.8 L862.0,655.1 L865.0,652.5 L868.0,649.8 L871.0,647.1 L874.0,644.3 L877.0,641.6 L880.0,638.8 L883.0,636.0 L886.0,633.2 L889.0,630.3 L892.0,627.4 L895.0,624.4 L898.0,621.5 L901.0,618.5 L904.0,615.4 L907.0,612.3 L910.0,609.2 L913.0,606.1 L916.0,602.9 L919.0,599.7 L922.0,596.4 L925.0,593.1 L928.0,589.8 L931.0,586.4 L934.0,583.1 L937.0,579.6 L940.0,576.2 L943.0,572.7 L946.0,569.1 L949.0,565.5 L952.0,561.9 L955.0,558.3 L958.0,554.5 L961.0,550.7 L964.0,546.7 L967.0,542.7 L970.0,538.6 L973.0,534.4 L976.0,530.2 L979.0,526.0 L982.0,521.7 L985.0,517.4 L988.0,513.0 L991.0,508.5 L994.0,504.0 L997.0,499.4 L1000.0,494.8 L1003.0,490.1 L1006.0,485.4 L1009.0,480.6 L1010.0,479.0" fill="none" stroke="#7a3d08" stroke-width="1.3" transform="translate(0,0.5)"/>
</g></svg>
<svg class="abs" width="1000" height="1000" viewBox="0 0 1000 1000" style="left:0;top:0"><polygon points="176.00,372.00 224.00,372.00 224.00,624.00 176.00,607.00" fill="#c8bfb4" /><polygon points="176.00,372.00 224.00,372.00 224.00,624.00 176.00,607.00" fill="#000" filter="url(#grainV)" opacity="0.1925"/><polygon points="176.00,372.00 224.00,372.00 224.00,624.00 176.00,607.00" fill="#000" filter="url(#flecksV)" opacity="0.22000000000000003"/><polygon points="176.00,372.00 224.00,372.00 224.00,624.00 176.00,607.00" fill="#000" filter="url(#figV)" opacity="0.3"/><defs><linearGradient id="sg1" gradientUnits="userSpaceOnUse" x1="176" y1="0" x2="200" y2="0"><stop offset="0" stop-color="#2a241f" stop-opacity="0.35"/><stop offset="1" stop-color="#2a241f" stop-opacity="0.0"/></linearGradient></defs><polygon points="176.00,372.00 224.00,372.00 224.00,624.00 176.00,607.00" fill="url(#sg1)" /><polygon points="176.00,468.00 224.00,478.00 224.00,498.00 176.00,488.00" fill="#b4aba1" /><polygon points="176.00,588.00 224.00,600.00 224.00,618.00 176.00,600.00" fill="#c4bbb1" /><polygon points="240.00,368.00 474.00,367.00 474.00,470.00 240.00,476.00" fill="#bcb1a6" /><polygon points="240.00,368.00 474.00,367.00 474.00,470.00 240.00,476.00" fill="#000" filter="url(#grainH)" opacity="0.1925"/><polygon points="240.00,368.00 474.00,367.00 474.00,470.00 240.00,476.00" fill="#000" filter="url(#flecks)" opacity="0.1925"/><polygon points="240.00,368.00 474.00,367.00 474.00,470.00 240.00,476.00" fill="#000" filter="url(#figH)" opacity="0.3"/><polygon points="549.00,366.00 733.00,364.00 733.00,461.50 549.00,466.50" fill="#b4a89d" /><polygon points="549.00,366.00 733.00,364.00 733.00,461.50 549.00,466.50" fill="#000" filter="url(#grainH2)" opacity="0.1925"/><polygon points="549.00,366.00 733.00,364.00 733.00,461.50 549.00,466.50" fill="#000" filter="url(#flecks2)" opacity="0.1925"/><polygon points="549.00,366.00 733.00,364.00 733.00,461.50 549.00,466.50" fill="#000" filter="url(#figH2)" opacity="0.3"/><polygon points="240.00,496.00 733.00,478.00 733.00,569.50 240.00,595.50" fill="#bbafa3" /><polygon points="240.00,496.00 733.00,478.00 733.00,569.50 240.00,595.50" fill="#000" filter="url(#grainH)" opacity="0.1925"/><polygon points="240.00,496.00 733.00,478.00 733.00,569.50 240.00,595.50" fill="#000" filter="url(#flecks)" opacity="0.1925"/><polygon points="240.00,496.00 733.00,478.00 733.00,569.50 240.00,595.50" fill="#000" filter="url(#figH)" opacity="0.3"/><defs><linearGradient id="sg2" gradientUnits="userSpaceOnUse" x1="0" y1="368" x2="0" y2="400"><stop offset="0" stop-color="#3b2e24" stop-opacity="0.75"/><stop offset="1" stop-color="#3b2e24" stop-opacity="0.0"/></linearGradient></defs><polygon points="240.00,368.00 474.00,367.00 474.00,470.00 240.00,476.00" fill="url(#sg2)" /><defs><linearGradient id="sg3" gradientUnits="userSpaceOnUse" x1="0" y1="364" x2="0" y2="396"><stop offset="0" stop-color="#3b2e24" stop-opacity="0.75"/><stop offset="1" stop-color="#3b2e24" stop-opacity="0.0"/></linearGradient></defs><polygon points="549.00,366.00 733.00,364.00 733.00,461.50 549.00,466.50" fill="url(#sg3)" /><defs><linearGradient id="sg4" gradientUnits="userSpaceOnUse" x1="0" y1="490" x2="0" y2="512"><stop offset="0" stop-color="#2f2720" stop-opacity="0.75"/><stop offset="1" stop-color="#2f2720" stop-opacity="0.0"/></linearGradient></defs><polygon points="240.00,496.00 733.00,478.00 733.00,569.50 240.00,595.50" fill="url(#sg4)" /><defs><linearGradient id="sg5" gradientUnits="userSpaceOnUse" x1="300" y1="0" x2="366" y2="0"><stop offset="0" stop-color="#2f2720" stop-opacity="0.0"/><stop offset="1" stop-color="#2f2720" stop-opacity="0.22"/></linearGradient></defs><polygon points="300.00,494.00 366.00,492.00 366.00,590.00 300.00,593.00" fill="url(#sg5)" /><defs><linearGradient id="sg6" gradientUnits="userSpaceOnUse" x1="520" y1="0" x2="576" y2="0"><stop offset="0" stop-color="#2f2720" stop-opacity="0.0"/><stop offset="1" stop-color="#2f2720" stop-opacity="0.3"/></linearGradient></defs><polygon points="520.00,486.00 576.00,484.00 576.00,578.00 520.00,581.00" fill="url(#sg6)" /><defs><linearGradient id="sg7" gradientUnits="userSpaceOnUse" x1="657" y1="0" x2="700" y2="0"><stop offset="0" stop-color="#2f2720" stop-opacity="0.25"/><stop offset="1" stop-color="#2f2720" stop-opacity="0.0"/></linearGradient></defs><polygon points="657.00,480.00 700.00,479.00 700.00,572.00 657.00,574.00" fill="url(#sg7)" /><ellipse cx="335.2" cy="419.9" rx="12.6" ry="13.6" fill="#fff"/><ellipse cx="608.3" cy="413.8" rx="11.3" ry="13" fill="#fff"/><polygon points="240.00,595.50 733.00,566.50 733.00,585.60 240.00,616.50" fill="#b6aa9e" /><polygon points="240.00,595.50 733.00,566.50 733.00,585.60 240.00,616.50" fill="#000" filter="url(#grainH)" opacity="0.22000000000000003"/><polygon points="240.00,595.50 733.00,566.50 733.00,585.60 240.00,616.50" fill="#000" filter="url(#flecks)" opacity="0.1925"/><polygon points="240.00,595.50 733.00,566.50 733.00,585.60 240.00,616.50" fill="#000" filter="url(#figH)" opacity="0.3"/><polygon points="240.00,595.50 740.00,566.00 740.00,573.00 240.00,603.00" fill="#3e3229" opacity="0.35" filter="url(#blur1)"/><polygon points="240.00,595.00 740.00,565.50 740.00,567.00 240.00,596.50" fill="#6d6156" opacity="0.6"/><polygon points="366.00,493.80 428.70,491.30 428.70,601.00 366.00,588.00" fill="#b5a99c" /><polygon points="366.00,493.80 428.70,491.30 428.70,601.00 366.00,588.00" fill="#000" filter="url(#grainV)" opacity="0.24750000000000003"/><polygon points="366.00,493.80 428.70,491.30 428.70,601.00 366.00,588.00" fill="#000" filter="url(#flecksV)" opacity="0.22000000000000003"/><polygon points="366.00,493.80 428.70,491.30 428.70,601.00 366.00,588.00" fill="#000" filter="url(#figV)" opacity="0.15"/><defs><linearGradient id="sg8" gradientUnits="userSpaceOnUse" x1="366" y1="0" x2="428.7" y2="0"><stop offset="0" stop-color="#2f2720" stop-opacity="0.35"/><stop offset="1" stop-color="#2f2720" stop-opacity="0.0"/></linearGradient></defs><polygon points="366.00,493.80 428.70,491.30 428.70,601.00 366.00,588.00" fill="url(#sg8)" /><defs><linearGradient id="sg9" gradientUnits="userSpaceOnUse" x1="0" y1="492" x2="0" y2="515"><stop offset="0" stop-color="#2f2720" stop-opacity="0.55"/><stop offset="1" stop-color="#2f2720" stop-opacity="0.0"/></linearGradient></defs><polygon points="366.00,493.80 428.70,491.30 428.70,601.00 366.00,588.00" fill="url(#sg9)" /><polygon points="428.70,490.00 434.80,490.00 434.80,601.50 428.70,601.50" fill="#cbc1b6" /><polygon points="428.70,490.00 434.80,490.00 434.80,601.50 428.70,601.50" fill="#000" filter="url(#grainV)" opacity="0.11000000000000001"/><polygon points="428.70,490.00 434.80,490.00 434.80,601.50 428.70,601.50" fill="#000" filter="url(#flecksV)" opacity="0.165"/><polygon points="428.70,490.00 434.80,490.00 434.80,601.50 428.70,601.50" fill="#000" filter="url(#figV)" opacity="0.3"/><polygon points="575.70,482.60 648.50,482.00 648.50,590.00 575.70,576.20" fill="#b5a99c" /><polygon points="575.70,482.60 648.50,482.00 648.50,590.00 575.70,576.20" fill="#000" filter="url(#grainV)" opacity="0.24750000000000003"/><polygon points="575.70,482.60 648.50,482.00 648.50,590.00 575.70,576.20" fill="#000" filter="url(#flecksV)" opacity="0.22000000000000003"/><polygon points="575.70,482.60 648.50,482.00 648.50,590.00 575.70,576.20" fill="#000" filter="url(#figV)" opacity="0.15"/><defs><linearGradient id="sg10" gradientUnits="userSpaceOnUse" x1="575.7" y1="0" x2="648.5" y2="0"><stop offset="0" stop-color="#2f2720" stop-opacity="0.35"/><stop offset="1" stop-color="#2f2720" stop-opacity="0.0"/></linearGradient></defs><polygon points="575.70,482.60 648.50,482.00 648.50,590.00 575.70,576.20" fill="url(#sg10)" /><defs><linearGradient id="sg11" gradientUnits="userSpaceOnUse" x1="0" y1="483" x2="0" y2="508"><stop offset="0" stop-color="#2f2720" stop-opacity="0.55"/><stop offset="1" stop-color="#2f2720" stop-opacity="0.0"/></linearGradient></defs><polygon points="575.70,482.60 648.50,482.00 648.50,590.00 575.70,576.20" fill="url(#sg11)" /><polygon points="648.50,481.00 656.80,481.00 656.80,590.50 648.50,590.50" fill="#cbc1b6" /><polygon points="648.50,481.00 656.80,481.00 656.80,590.50 648.50,590.50" fill="#000" filter="url(#grainV)" opacity="0.11000000000000001"/><polygon points="648.50,481.00 656.80,481.00 656.80,590.50 648.50,590.50" fill="#000" filter="url(#flecksV)" opacity="0.165"/><polygon points="648.50,481.00 656.80,481.00 656.80,590.50 648.50,590.50" fill="#000" filter="url(#figV)" opacity="0.3"/><polygon points="240.00,616.50 815.00,580.50 815.00,588.00 240.00,625.50" fill="#cbc1b6" /><polygon points="240.00,616.50 815.00,580.50 815.00,588.00 240.00,625.50" fill="#000" filter="url(#grainH)" opacity="0.165"/><polygon points="240.00,616.50 815.00,580.50 815.00,588.00 240.00,625.50" fill="#000" filter="url(#flecks)" opacity="0.1925"/><polygon points="240.00,616.50 815.00,580.50 815.00,588.00 240.00,625.50" fill="#000" filter="url(#figH)" opacity="0.3"/><polygon points="240.00,476.00 733.00,461.70 733.00,471.00 240.00,488.30" fill="#afa396" /><polygon points="240.00,476.00 733.00,461.70 733.00,471.00 240.00,488.30" fill="#000" filter="url(#grainH)" opacity="0.24750000000000003"/><polygon points="240.00,476.00 733.00,461.70 733.00,471.00 240.00,488.30" fill="#000" filter="url(#flecks)" opacity="0.1925"/><polygon points="240.00,476.00 733.00,461.70 733.00,471.00 240.00,488.30" fill="#000" filter="url(#figH)" opacity="0.3"/><defs><linearGradient id="sg12" gradientUnits="userSpaceOnUse" x1="240" y1="0" x2="520" y2="0"><stop offset="0" stop-color="#2f2720" stop-opacity="0.28"/><stop offset="1" stop-color="#2f2720" stop-opacity="0.0"/></linearGradient></defs><polygon points="240.00,476.00 520.00,468.00 520.00,484.50 240.00,488.30" fill="url(#sg12)" /><polygon points="240.00,476.00 733.00,461.70 733.00,466.50 240.00,481.50" fill="#3e3229" opacity="0.3" filter="url(#blur1)"/><polygon points="240.00,475.50 733.00,461.20 733.00,462.60 240.00,477.00" fill="#6d6156" opacity="0.6"/><polygon points="473.80,365.00 541.30,365.00 541.30,478.00 473.80,470.00" fill="#b7ab9f" /><polygon points="473.80,365.00 541.30,365.00 541.30,478.00 473.80,470.00" fill="#000" filter="url(#grainV)" opacity="0.24750000000000003"/><polygon points="473.80,365.00 541.30,365.00 541.30,478.00 473.80,470.00" fill="#000" filter="url(#flecksV)" opacity="0.22000000000000003"/><polygon points="473.80,365.00 541.30,365.00 541.30,478.00 473.80,470.00" fill="#000" filter="url(#figV)" opacity="0.15"/><defs><linearGradient id="sg13" gradientUnits="userSpaceOnUse" x1="473.8" y1="0" x2="541.3" y2="0"><stop offset="0" stop-color="#2f2720" stop-opacity="0.35"/><stop offset="1" stop-color="#2f2720" stop-opacity="0.0"/></linearGradient></defs><polygon points="473.80,365.00 541.30,365.00 541.30,478.00 473.80,470.00" fill="url(#sg13)" /><defs><linearGradient id="sg14" gradientUnits="userSpaceOnUse" x1="0" y1="367" x2="0" y2="395"><stop offset="0" stop-color="#3b2e24" stop-opacity="0.6"/><stop offset="1" stop-color="#3b2e24" stop-opacity="0.0"/></linearGradient></defs><polygon points="473.80,365.00 541.30,365.00 541.30,478.00 473.80,470.00" fill="url(#sg14)" /><polygon points="541.30,365.00 549.30,365.00 549.30,480.00 541.30,480.00" fill="#cbc1b6" /><polygon points="541.30,365.00 549.30,365.00 549.30,480.00 541.30,480.00" fill="#000" filter="url(#grainV)" opacity="0.11000000000000001"/><polygon points="541.30,365.00 549.30,365.00 549.30,480.00 541.30,480.00" fill="#000" filter="url(#flecksV)" opacity="0.165"/><polygon points="541.30,365.00 549.30,365.00 549.30,480.00 541.30,480.00" fill="#000" filter="url(#figV)" opacity="0.3"/><polygon points="240.00,488.30 814.00,468.20 814.00,477.30 240.00,496.80" fill="#cdc3b8" /><polygon points="240.00,488.30 814.00,468.20 814.00,477.30 240.00,496.80" fill="#000" filter="url(#grainH)" opacity="0.165"/><polygon points="240.00,488.30 814.00,468.20 814.00,477.30 240.00,496.80" fill="#000" filter="url(#flecks)" opacity="0.1925"/><polygon points="240.00,488.30 814.00,468.20 814.00,477.30 240.00,496.80" fill="#000" filter="url(#figH)" opacity="0.3"/><polygon points="240.00,368.50 732.00,363.80 732.00,369.00 240.00,374.00" fill="#3a2c22" opacity="0.55" filter="url(#blur1)"/><polygon points="166.80,352.50 222.00,352.00 222.00,369.00 166.80,366.50" fill="#c2b8ad" /><polygon points="166.80,352.50 222.00,352.00 222.00,369.00 166.80,366.50" fill="#000" filter="url(#grainH)" opacity="0.165"/><polygon points="166.80,352.50 222.00,352.00 222.00,369.00 166.80,366.50" fill="#000" filter="url(#flecks)" opacity="0.1925"/><polygon points="166.80,352.50 222.00,352.00 222.00,369.00 166.80,366.50" fill="#000" filter="url(#figH)" opacity="0.3"/><polygon points="222.00,352.00 834.00,349.00 834.00,363.00 222.00,369.00" fill="#c9bfb4" /><polygon points="222.00,352.00 834.00,349.00 834.00,363.00 222.00,369.00" fill="#000" filter="url(#grainH2)" opacity="0.165"/><polygon points="222.00,352.00 834.00,349.00 834.00,363.00 222.00,369.00" fill="#000" filter="url(#flecks2)" opacity="0.22000000000000003"/><polygon points="222.00,352.00 834.00,349.00 834.00,363.00 222.00,369.00" fill="#000" filter="url(#figH2)" opacity="0.1"/><polygon points="166.80,351.60 834.00,348.40 834.00,349.60 166.80,352.80" fill="#aaa196" /><polygon points="222.00,368.20 834.00,362.30 834.00,363.30 222.00,369.30" fill="#9b9287" opacity="0.7"/><rect x="500.30" y="607.00" width="16.90" height="20.00" fill="#2a2a2a" /><rect x="503.00" y="627.00" width="11.60" height="6.40" fill="#1e1e1e" /><rect x="728.00" y="592.00" width="16.00" height="8.00" fill="#2a2a2a" /><rect x="731.00" y="600.00" width="10.00" height="4.00" fill="#1e1e1e" /><rect x="173.00" y="367.50" width="14.00" height="270.00" fill="#2a2a2a" /><rect x="180.00" y="380.00" width="7.00" height="225.00" fill="#3a3a3a" /><rect x="174.00" y="637.00" width="12.00" height="5.40" fill="#1e1e1e" /><polygon points="173.00,367.50 223.00,368.50 223.00,381.00 173.00,380.00" fill="#2a2a2a" /><polygon points="178.25,380.00 188.75,380.00 221.25,481.00 210.75,481.00" fill="#232323" /><polygon points="210.75,381.00 221.25,381.00 188.25,481.00 177.75,481.00" fill="#2c2c2c" /><polygon points="175.00,478.00 223.00,485.50 223.00,496.50 175.00,490.00" fill="#2a2a2a" /><polygon points="179.50,488.00 189.50,488.00 224.00,610.00 214.00,610.00" fill="#232323" /><polygon points="214.00,494.00 224.00,494.00 189.00,600.00 179.00,600.00" fill="#2c2c2c" /><polygon points="175.00,597.50 223.00,615.00 223.00,624.60 175.00,606.50" fill="#2a2a2a" /><rect x="223.00" y="367.50" width="17.00" height="293.00" fill="#424242" /><rect x="223.00" y="367.50" width="3.50" height="293.00" fill="#2a2a2a" /><rect x="225.00" y="660.00" width="13.00" height="7.00" fill="#1e1e1e" /><rect x="732.40" y="363.50" width="9.60" height="230.50" fill="#2a2a2a" /><polygon points="742.00,363.60 811.00,363.20 811.00,373.00 742.00,373.40" fill="#2a2a2a" /><polygon points="741.50,372.00 751.50,372.00 809.50,461.00 799.50,461.00" fill="#262626" /><polygon points="799.50,372.00 809.50,372.00 751.00,460.00 741.00,460.00" fill="#2e2e2e" /><polygon points="742.00,457.50 811.00,463.50 811.00,467.00 742.00,461.50" fill="#2a2a2a" /><polygon points="741.75,477.00 751.25,477.00 808.75,577.00 799.25,577.00" fill="#262626" /><polygon points="799.75,477.00 809.25,477.00 750.25,566.00 740.75,566.00" fill="#2e2e2e" /><polygon points="742.00,563.50 811.00,575.50 811.00,579.00 742.00,567.00" fill="#2a2a2a" /><rect x="809.60" y="362.50" width="16.40" height="256.00" fill="#383838" /><rect x="809.60" y="362.50" width="2.90" height="256.00" fill="#262626" /><rect x="811.00" y="618.00" width="12.00" height="6.00" fill="#1e1e1e" /><polygon points="731.50,461.20 742.00,461.00 811.00,466.50 814.00,468.20 731.50,471.10" fill="#bdb3a8" /><polygon points="731.50,461.20 742.00,461.00 811.00,466.50 814.00,468.20 731.50,471.10" fill="#000" filter="url(#grainH)" opacity="0.165"/><polygon points="731.50,461.20 742.00,461.00 811.00,466.50 814.00,468.20 731.50,471.10" fill="#000" filter="url(#flecks)" opacity="0.22000000000000003"/><polygon points="731.50,461.20 742.00,461.00 811.00,466.50 814.00,468.20 731.50,471.10" fill="#000" filter="url(#figH)" opacity="0.3"/><polygon points="731.50,471.10 814.00,468.20 814.00,477.30 731.50,480.30" fill="#cdc3b8" /><polygon points="731.50,471.10 814.00,468.20 814.00,477.30 731.50,480.30" fill="#000" filter="url(#grainH)" opacity="0.165"/><polygon points="731.50,471.10 814.00,468.20 814.00,477.30 731.50,480.30" fill="#000" filter="url(#flecks)" opacity="0.22000000000000003"/><polygon points="731.50,471.10 814.00,468.20 814.00,477.30 731.50,480.30" fill="#000" filter="url(#figH)" opacity="0.3"/><polygon points="731.50,566.50 742.00,566.50 811.00,578.50 815.00,580.50 731.50,585.70" fill="#b8ada1" /><polygon points="731.50,566.50 742.00,566.50 811.00,578.50 815.00,580.50 731.50,585.70" fill="#000" filter="url(#grainH)" opacity="0.165"/><polygon points="731.50,566.50 742.00,566.50 811.00,578.50 815.00,580.50 731.50,585.70" fill="#000" filter="url(#flecks)" opacity="0.22000000000000003"/><polygon points="731.50,566.50 742.00,566.50 811.00,578.50 815.00,580.50 731.50,585.70" fill="#000" filter="url(#figH)" opacity="0.3"/><polygon points="731.50,585.70 815.00,580.50 815.00,588.00 731.50,593.40" fill="#cbc1b6" /><polygon points="731.50,585.70 815.00,580.50 815.00,588.00 731.50,593.40" fill="#000" filter="url(#grainH)" opacity="0.165"/><polygon points="731.50,585.70 815.00,580.50 815.00,588.00 731.50,593.40" fill="#000" filter="url(#flecks)" opacity="0.22000000000000003"/><polygon points="731.50,585.70 815.00,580.50 815.00,588.00 731.50,593.40" fill="#000" filter="url(#figH)" opacity="0.3"/></svg>
<div class="panel" style="left:134.60px;top:4.10px;width:278.00px;height:221.70px;background:#fff"><svg width="278.00" height="221.70" viewBox="134.60 4.10 278.00 221.70"><rect x="134.60" y="4.10" width="278.00" height="221.70" fill="#ffffff" /><rect x="169.70" y="4.10" width="209.30" height="221.70" fill="#c4bab0" /><polygon points="169.70,4.10 371.50,4.10 371.50,80.00 169.70,80.00" fill="#c6bdb3" /><polygon points="169.70,4.10 371.50,4.10 371.50,80.00 169.70,80.00" fill="#000" filter="url(#grainV)" opacity="0.3375"/><polygon points="169.70,4.10 371.50,4.10 371.50,80.00 169.70,80.00" fill="#000" filter="url(#flecksV)" opacity="0.375"/><polygon points="169.70,4.10 191.60,4.10 191.60,80.00 169.70,103.00" fill="#cdc5bc" /><polygon points="169.70,4.10 191.60,4.10 191.60,80.00 169.70,103.00" fill="#000" filter="url(#grainV)" opacity="0.30000000000000004"/><polygon points="169.70,4.10 191.60,4.10 191.60,80.00 169.70,103.00" fill="#000" filter="url(#flecksV)" opacity="0.375"/><rect x="178.50" y="8.00" width="2.00" height="40.00" fill="#f7f4f0" opacity="0.85"/><rect x="363.00" y="4.10" width="8.50" height="75.90" fill="#d8d1c9" opacity="0.8"/><polygon points="371.50,4.10 379.00,4.10 379.00,87.00 371.50,80.00" fill="#ffffff" /><polygon points="191.60,79.50 371.50,79.50 379.00,87.00 379.00,108.50 169.70,108.50 169.70,103.00" fill="#cec6bd" /><polygon points="191.60,79.50 371.50,79.50 379.00,87.00 379.00,108.50 169.70,108.50 169.70,103.00" fill="#000" filter="url(#grainH)" opacity="0.22499999999999998"/><polygon points="191.60,79.50 371.50,79.50 379.00,87.00 379.00,108.50 169.70,108.50 169.70,103.00" fill="#000" filter="url(#flecks)" opacity="0.30000000000000004"/><polygon points="169.70,120.00 379.00,120.00 379.00,225.80 169.70,225.80" fill="#c2b8ae" /><polygon points="169.70,120.00 379.00,120.00 379.00,225.80 169.70,225.80" fill="#000" filter="url(#grainV)" opacity="0.3375"/><polygon points="169.70,120.00 379.00,120.00 379.00,225.80 169.70,225.80" fill="#000" filter="url(#flecksV)" opacity="0.375"/><defs><linearGradient id="sg15" gradientUnits="userSpaceOnUse" x1="0" y1="120" x2="0" y2="140"><stop offset="0" stop-color="#3a3028" stop-opacity="0.35"/><stop offset="1" stop-color="#3a3028" stop-opacity="0.0"/></linearGradient></defs><polygon points="169.70,120.00 379.00,120.00 379.00,140.00 169.70,140.00" fill="url(#sg15)" /><rect x="149.00" y="4.10" width="20.70" height="221.70" fill="#4a4a4a" /><rect x="166.80" y="4.10" width="2.90" height="221.70" fill="#363636" /><rect x="379.00" y="4.10" width="20.30" height="221.70" fill="#4a4a4a" /><rect x="379.00" y="4.10" width="2.60" height="221.70" fill="#363636" /><polygon points="215.00,2.00 239.00,2.00 376.50,108.50 352.50,108.50" fill="#454545" stroke="#1c1c1c" stroke-width="1"/><polygon points="311.00,2.00 335.00,2.00 194.00,108.50 170.00,108.50" fill="#454545" stroke="#1c1c1c" stroke-width="1"/><polygon points="170.90,120.40 195.90,120.40 327.30,228.00 302.30,228.00" fill="#454545" stroke="#1c1c1c" stroke-width="1"/><polygon points="352.00,120.40 377.00,120.40 249.90,228.00 224.90,228.00" fill="#454545" stroke="#1c1c1c" stroke-width="1"/><rect x="169.70" y="108.40" width="209.30" height="12.00" fill="#464646" /><rect x="169.70" y="108.40" width="209.30" height="1.10" fill="#222" /><rect x="169.70" y="119.30" width="209.30" height="1.10" fill="#222" /><circle cx="158.4" cy="115" r="2.7" fill="#1b1b1b" stroke="#8a8a8a" stroke-width="0.9"/><circle cx="389.3" cy="115" r="2.7" fill="#1b1b1b" stroke="#8a8a8a" stroke-width="0.9"/></svg></div>
<div class="panel" style="left:612.20px;top:4.50px;width:277.70px;height:221.30px;background:#fff"><svg width="277.70" height="221.30" viewBox="612.20 4.50 277.70 221.30"><rect x="612.20" y="4.50" width="277.70" height="221.30" fill="#c2b6ab" /><rect x="612.20" y="4.50" width="277.70" height="221.30" fill="#000" filter="url(#grainH)" opacity="0.3"/><rect x="612.20" y="4.50" width="277.70" height="221.30" fill="#000" filter="url(#streak)" opacity="0.5"/><rect x="612.20" y="4.50" width="277.70" height="221.30" fill="#000" filter="url(#flecks)" opacity="0.5"/><ellipse cx="752.4" cy="118.3" rx="59.4" ry="53.2" transform="rotate(-58.2 752.4 118.3)" fill="#d4c4b0"/><ellipse cx="749.9" cy="117.5" rx="59.4" ry="53.2" transform="rotate(-58.2 749.9 117.5)" fill="#ffffff"/><path d="M741,180 C748,192 752,205 753,226 L766,226 C766,206 763,192 760,181 Z" fill="#55493f" opacity="0.55" filter="url(#blur2)"/><path d="M736,170.8 C752,169.5 770,171 786,181 C800,190 812,205 817.6,226" fill="none" stroke="#1c1c1c" stroke-width="5.6"/><path d="M718.2,171 C732,171 748,173 758,179 C770,187 779,201 784.5,226" fill="none" stroke="#222" stroke-width="5.6"/><path d="M762,185 C771,194 777,206 781,222" fill="none" stroke="#6a6a6a" stroke-width="0.9" opacity="0.7"/><path d="M792,188 C803,197 810,209 814,222" fill="none" stroke="#6a6a6a" stroke-width="0.9" opacity="0.7"/></svg></div>
<div class="panel" style="left:25.40px;top:694.10px;width:277.30px;height:221.40px;background:#fff"><svg width="277.30" height="221.40" viewBox="25.40 694.10 277.30 221.40"><rect x="25.40" y="694.10" width="277.30" height="221.40" fill="#ffffff" /><polygon points="27.00,724.50 301.00,724.50 301.00,735.00 27.00,735.00" fill="#c3bab0" /><polygon points="27.00,724.50 301.00,724.50 301.00,735.00 27.00,735.00" fill="#000" filter="url(#grainH)" opacity="0.22499999999999998"/><polygon points="27.00,724.50 301.00,724.50 301.00,735.00 27.00,735.00" fill="#000" filter="url(#flecks)" opacity="0.22499999999999998"/><polygon points="27.00,724.50 301.00,724.50 301.00,735.00 27.00,735.00" fill="#000" filter="url(#figH)" opacity="0.25"/><polygon points="27.00,735.00 301.00,735.00 301.00,744.50 27.00,744.50" fill="#cdc5bb" /><polygon points="27.00,735.00 301.00,735.00 301.00,744.50 27.00,744.50" fill="#000" filter="url(#grainH2)" opacity="0.22499999999999998"/><polygon points="27.00,735.00 301.00,735.00 301.00,744.50 27.00,744.50" fill="#000" filter="url(#flecks2)" opacity="0.22499999999999998"/><polygon points="27.00,735.00 301.00,735.00 301.00,744.50 27.00,744.50" fill="#000" filter="url(#figH2)" opacity="0.25"/><rect x="27.00" y="724.50" width="274.00" height="1.00" fill="#a59c92" /><rect x="27.00" y="734.30" width="274.00" height="1.20" fill="#a0978c" /><rect x="27.00" y="743.80" width="274.00" height="1.20" fill="#8f867c" /><polygon points="27.00,745.00 301.00,745.00 301.00,798.60 27.00,798.60" fill="#c6bcb1" /><polygon points="27.00,745.00 301.00,745.00 301.00,798.60 27.00,798.60" fill="#000" filter="url(#grainH)" opacity="0.22499999999999998"/><polygon points="27.00,745.00 301.00,745.00 301.00,798.60 27.00,798.60" fill="#000" filter="url(#flecks)" opacity="0.26249999999999996"/><polygon points="27.00,745.00 301.00,745.00 301.00,798.60 27.00,798.60" fill="#000" filter="url(#figH)" opacity="0.25"/><defs><linearGradient id="sg16" gradientUnits="userSpaceOnUse" x1="120" y1="0" x2="173.5" y2="0"><stop offset="0" stop-color="#3a3028" stop-opacity="0.0"/><stop offset="1" stop-color="#3a3028" stop-opacity="0.4"/></linearGradient></defs><polygon points="120.00,745.00 173.50,745.00 173.50,798.60 120.00,798.60" fill="url(#sg16)" /><defs><linearGradient id="sg17" gradientUnits="userSpaceOnUse" x1="179" y1="0" x2="215" y2="0"><stop offset="0" stop-color="#3a3028" stop-opacity="0.3"/><stop offset="1" stop-color="#3a3028" stop-opacity="0.0"/></linearGradient></defs><polygon points="179.00,745.00 215.00,745.00 215.00,798.60 179.00,798.60" fill="url(#sg17)" /><defs><linearGradient id="sg18" gradientUnits="userSpaceOnUse" x1="0" y1="745" x2="0" y2="760"><stop offset="0" stop-color="#3a3028" stop-opacity="0.3"/><stop offset="1" stop-color="#3a3028" stop-opacity="0.0"/></linearGradient></defs><polygon points="27.00,745.00 301.00,745.00 301.00,760.00 27.00,760.00" fill="url(#sg18)" /><polygon points="27.00,798.60 301.00,798.60 301.00,815.80 27.00,815.80" fill="#aea397" /><polygon points="27.00,798.60 301.00,798.60 301.00,815.80 27.00,815.80" fill="#000" filter="url(#grainH)" opacity="0.26249999999999996"/><polygon points="27.00,798.60 301.00,798.60 301.00,815.80 27.00,815.80" fill="#000" filter="url(#flecks)" opacity="0.22499999999999998"/><polygon points="27.00,798.60 301.00,798.60 301.00,815.80 27.00,815.80" fill="#000" filter="url(#figH)" opacity="0.25"/><defs><linearGradient id="sg19" gradientUnits="userSpaceOnUse" x1="0" y1="798.6" x2="0" y2="815.8"><stop offset="0" stop-color="#3a3028" stop-opacity="0.25"/><stop offset="1" stop-color="#3a3028" stop-opacity="0.0"/></linearGradient></defs><polygon points="27.00,798.60 301.00,798.60 301.00,815.80 27.00,815.80" fill="url(#sg19)" /><polygon points="27.00,815.80 301.00,815.80 301.00,820.50 27.00,820.50" fill="#cfc7bd" /><polygon points="27.00,815.80 301.00,815.80 301.00,820.50 27.00,820.50" fill="#000" filter="url(#grainH)" opacity="0.15000000000000002"/><polygon points="27.00,815.80 301.00,815.80 301.00,820.50 27.00,820.50" fill="#000" filter="url(#flecks)" opacity="0.22499999999999998"/><polygon points="27.00,815.80 301.00,815.80 301.00,820.50 27.00,820.50" fill="#000" filter="url(#figH)" opacity="0.25"/><rect x="171.50" y="745.00" width="2.00" height="70.80" fill="#a79d92" /><polygon points="173.50,745.00 179.00,745.00 179.00,816.00 173.50,816.00" fill="#d0c8be" /><polygon points="173.50,745.00 179.00,745.00 179.00,816.00 173.50,816.00" fill="#000" filter="url(#grainV)" opacity="0.15000000000000002"/><polygon points="173.50,745.00 179.00,745.00 179.00,816.00 173.50,816.00" fill="#000" filter="url(#flecksV)" opacity="0.22499999999999998"/><polygon points="173.50,745.00 179.00,745.00 179.00,816.00 173.50,816.00" fill="#000" filter="url(#figV)" opacity="0.25"/><circle cx="87.9" cy="766" r="8.2" fill="#fff"/><circle cx="267" cy="766" r="8.2" fill="#fff"/><polygon points="27.00,820.50 301.00,820.50 301.00,867.00 27.00,867.00" fill="#c0b6ab" /><polygon points="27.00,820.50 301.00,820.50 301.00,867.00 27.00,867.00" fill="#000" filter="url(#grainH2)" opacity="0.22499999999999998"/><polygon points="27.00,820.50 301.00,820.50 301.00,867.00 27.00,867.00" fill="#000" filter="url(#flecks2)" opacity="0.26249999999999996"/><polygon points="27.00,820.50 301.00,820.50 301.00,867.00 27.00,867.00" fill="#000" filter="url(#figH2)" opacity="0.25"/><defs><linearGradient id="sg20" gradientUnits="userSpaceOnUse" x1="0" y1="820.5" x2="0" y2="835"><stop offset="0" stop-color="#3a3028" stop-opacity="0.4"/><stop offset="1" stop-color="#3a3028" stop-opacity="0.0"/></linearGradient></defs><polygon points="27.00,820.50 301.00,820.50 301.00,835.00 27.00,835.00" fill="url(#sg20)" /><defs><linearGradient id="sg21" gradientUnits="userSpaceOnUse" x1="55" y1="0" x2="97.3" y2="0"><stop offset="0" stop-color="#3a3028" stop-opacity="0.0"/><stop offset="1" stop-color="#3a3028" stop-opacity="0.45"/></linearGradient></defs><polygon points="60.00,820.50 97.30,820.50 97.30,867.00 60.00,867.00" fill="url(#sg21)" /><defs><linearGradient id="sg22" gradientUnits="userSpaceOnUse" x1="109" y1="0" x2="140" y2="0"><stop offset="0" stop-color="#3a3028" stop-opacity="0.4"/><stop offset="1" stop-color="#3a3028" stop-opacity="0.0"/></linearGradient></defs><polygon points="109.00,820.50 140.00,820.50 140.00,867.00 109.00,867.00" fill="url(#sg22)" /><defs><linearGradient id="sg23" gradientUnits="userSpaceOnUse" x1="205" y1="0" x2="246.3" y2="0"><stop offset="0" stop-color="#3a3028" stop-opacity="0.0"/><stop offset="1" stop-color="#3a3028" stop-opacity="0.45"/></linearGradient></defs><polygon points="205.00,820.50 246.30,820.50 246.30,867.00 205.00,867.00" fill="url(#sg23)" /><polygon points="27.00,867.00 301.00,867.00 301.00,890.80 27.00,890.80" fill="#b3a89c" /><polygon points="27.00,867.00 301.00,867.00 301.00,890.80 27.00,890.80" fill="#000" filter="url(#grainH)" opacity="0.26249999999999996"/><polygon points="27.00,867.00 301.00,867.00 301.00,890.80 27.00,890.80" fill="#000" filter="url(#flecks)" opacity="0.22499999999999998"/><polygon points="27.00,867.00 301.00,867.00 301.00,890.80 27.00,890.80" fill="#000" filter="url(#figH)" opacity="0.25"/><defs><linearGradient id="sg24" gradientUnits="userSpaceOnUse" x1="0" y1="867" x2="0" y2="890.8"><stop offset="0" stop-color="#3a3028" stop-opacity="0.3"/><stop offset="1" stop-color="#3a3028" stop-opacity="0.0"/></linearGradient></defs><polygon points="27.00,867.00 301.00,867.00 301.00,890.80 27.00,890.80" fill="url(#sg24)" /><polygon points="27.00,890.80 301.00,890.80 301.00,895.50 27.00,895.50" fill="#cbc3b9" /><polygon points="27.00,890.80 301.00,890.80 301.00,895.50 27.00,895.50" fill="#000" filter="url(#grainH)" opacity="0.15000000000000002"/><polygon points="27.00,890.80 301.00,890.80 301.00,895.50 27.00,895.50" fill="#000" filter="url(#flecks)" opacity="0.22499999999999998"/><polygon points="27.00,890.80 301.00,890.80 301.00,895.50 27.00,895.50" fill="#000" filter="url(#figH)" opacity="0.25"/><polygon points="97.30,820.50 102.90,820.50 102.90,891.00 97.30,891.00" fill="#cfc7bd" /><polygon points="97.30,820.50 102.90,820.50 102.90,891.00 97.30,891.00" fill="#000" filter="url(#grainV)" opacity="0.15000000000000002"/><polygon points="97.30,820.50 102.90,820.50 102.90,891.00 97.30,891.00" fill="#000" filter="url(#flecksV)" opacity="0.22499999999999998"/><polygon points="97.30,820.50 102.90,820.50 102.90,891.00 97.30,891.00" fill="#000" filter="url(#figV)" opacity="0.25"/><polygon points="102.90,820.50 109.00,820.50 109.00,888.00 102.90,888.00" fill="#aaa095" /><polygon points="102.90,820.50 109.00,820.50 109.00,888.00 102.90,888.00" fill="#000" filter="url(#grainV)" opacity="0.22499999999999998"/><polygon points="102.90,820.50 109.00,820.50 109.00,888.00 102.90,888.00" fill="#000" filter="url(#flecksV)" opacity="0.22499999999999998"/><polygon points="102.90,820.50 109.00,820.50 109.00,888.00 102.90,888.00" fill="#000" filter="url(#figV)" opacity="0.25"/><polygon points="246.30,820.50 250.50,820.50 250.50,888.00 246.30,888.00" fill="#aaa095" /><polygon points="246.30,820.50 250.50,820.50 250.50,888.00 246.30,888.00" fill="#000" filter="url(#grainV)" opacity="0.22499999999999998"/><polygon points="246.30,820.50 250.50,820.50 250.50,888.00 246.30,888.00" fill="#000" filter="url(#flecksV)" opacity="0.22499999999999998"/><polygon points="246.30,820.50 250.50,820.50 250.50,888.00 246.30,888.00" fill="#000" filter="url(#figV)" opacity="0.25"/><polygon points="250.50,820.50 256.00,820.50 256.00,891.00 250.50,891.00" fill="#cfc7bd" /><polygon points="250.50,820.50 256.00,820.50 256.00,891.00 250.50,891.00" fill="#000" filter="url(#grainV)" opacity="0.15000000000000002"/><polygon points="250.50,820.50 256.00,820.50 256.00,891.00 250.50,891.00" fill="#000" filter="url(#flecksV)" opacity="0.22499999999999998"/><polygon points="250.50,820.50 256.00,820.50 256.00,891.00 250.50,891.00" fill="#000" filter="url(#figV)" opacity="0.25"/></svg></div>
<div class="panel" style="left:350.10px;top:694.50px;width:278.00px;height:221.10px;background:#fff"><svg width="278.00" height="221.10" viewBox="350.10 694.50 278.00 221.10"><rect x="350.10" y="694.50" width="278.00" height="221.10" fill="#ffffff" /><polygon points="442.70,690.00 492.00,690.00 492.00,829.00 442.70,820.00" fill="#2a2a2a" /><polygon points="491.20,690.00 536.60,690.00 536.60,818.00 491.20,829.00" fill="#383838" /><polygon points="491.20,690.00 536.60,690.00 536.60,818.00 491.20,829.00" fill="#000" filter="url(#speck)" opacity="0.28"/><rect x="442.70" y="690.00" width="3.30" height="130.00" fill="#232323" /><polygon points="443.50,819.50 491.40,829.00 536.60,818.00 536.60,829.00 491.40,838.50 444.00,830.00" fill="#1d1d1d" /><rect x="480.00" y="836.00" width="20.50" height="29.00" fill="#9a9a9a" /><rect x="480.00" y="840.00" width="20.50" height="1.30" fill="#5d5d5d" /><rect x="480.00" y="843.20" width="20.50" height="1.30" fill="#5d5d5d" /><rect x="480.00" y="846.40" width="20.50" height="1.30" fill="#5d5d5d" /><rect x="480.00" y="849.60" width="20.50" height="1.30" fill="#5d5d5d" /><rect x="480.00" y="852.80" width="20.50" height="1.30" fill="#5d5d5d" /><rect x="480.00" y="856.00" width="20.50" height="1.30" fill="#5d5d5d" /><rect x="480.00" y="859.20" width="20.50" height="1.30" fill="#5d5d5d" /><rect x="480.00" y="862.40" width="20.50" height="1.30" fill="#5d5d5d" /><path d="M455,868 L455,890 A34,8 0 0 0 523,890 L523,868 Z" fill="#2e2e2e"/><path d="M455,868 L455,890 A34,8 0 0 0 523,890 L523,868 Z" fill="#000" filter="url(#speck)" opacity="0.28"/><ellipse cx="489" cy="868" rx="34" ry="7" fill="#383838"/><ellipse cx="489" cy="862" rx="24.5" ry="5.5" fill="#1e1e1e"/><rect x="480.00" y="850.00" width="20.50" height="12.00" fill="#9a9a9a" /><ellipse cx="490" cy="862" rx="42.5" ry="8" fill="none" stroke="#f47a1c" stroke-width="1.3"/><path d="M463,868.5 L519,868.5" stroke="#f47a1c" stroke-width="2.2"/><path d="M460,868.5 L469,864 L469,873 Z" fill="#f47a1c"/><path d="M512,868.5 L521,864 L521,873 Z" fill="#f47a1c"/><path d="M545.5,836 L545.5,861 M541.5,840 L545.5,833 L549.5,840" stroke="#f47a1c" stroke-width="2.6" fill="none"/><path d="M554.5,833 L554.5,858 M550.5,854 L554.5,861 L558.5,854" stroke="#f47a1c" stroke-width="2.6" fill="none"/><text x="397" y="856.1" font-family="Liberation Sans" font-weight="bold" font-size="20.5" fill="#f07a1e" stroke="#f07a1e" stroke-width="0.5" textLength="47.5" lengthAdjust="spacingAndGlyphs">360°</text></svg></div>
<div class="panel" style="left:694.40px;top:694.00px;width:276.60px;height:221.00px;background:#fff"><svg width="276.60" height="221.00" viewBox="694.40 694.00 276.60 221.00"><defs><linearGradient id="p3bg" gradientUnits="userSpaceOnUse" x1="0" y1="696" x2="0" y2="913"><stop offset="0" stop-color="#d4cec7"/><stop offset="0.35" stop-color="#c6bdb4"/><stop offset="1" stop-color="#b9afa5"/></linearGradient><radialGradient id="dropg" cx="0.5" cy="0.55" r="0.6"><stop offset="0" stop-color="#a59584"/><stop offset="0.75" stop-color="#8a7b6d"/><stop offset="1" stop-color="#62564b"/></radialGradient></defs><rect x="694.40" y="694.00" width="276.60" height="221.00" fill="url(#p3bg)" /><rect x="694.40" y="694.00" width="276.60" height="221.00" fill="#000" filter="url(#grainH2)" opacity="0.4"/><rect x="694.40" y="694.00" width="276.60" height="221.00" fill="#000" filter="url(#flecks)" opacity="0.45"/><defs><linearGradient id="p3top" gradientUnits="userSpaceOnUse" x1="0" y1="696" x2="0" y2="760"><stop offset="0" stop-color="#ebe7e2" stop-opacity="0.55"/><stop offset="1" stop-color="#ebe7e2" stop-opacity="0"/></linearGradient></defs><rect x="694.40" y="694.00" width="276.60" height="66.00" fill="url(#p3top)" /><ellipse cx="760.1" cy="761.2" rx="16.1" ry="4.2" fill="#8f8377" opacity="0.35" filter="url(#blur1)"/><ellipse cx="760.1" cy="758.0" rx="17.9" ry="5.2" fill="url(#dropg)" opacity="0.85" stroke="#54483e" stroke-width="0.9" stroke-opacity="0.7"/><ellipse cx="768.2" cy="752.8" rx="5.6" ry="1.4" fill="#fbf8f4" opacity="0.95"/><ellipse cx="762.8" cy="761.2" rx="1.4" ry="0.8" fill="#ffffff" opacity="0.9"/><ellipse cx="722.4" cy="763.6" rx="2.8" ry="2.3" fill="#8f8377" opacity="0.35" filter="url(#blur1)"/><ellipse cx="722.4" cy="761.9" rx="3.1" ry="2.9" fill="url(#dropg)" opacity="0.85" stroke="#54483e" stroke-width="0.9" stroke-opacity="0.7"/><ellipse cx="722.5" cy="759.5" rx="1.5" ry="1.0" fill="#fbf8f4" opacity="0.95"/><ellipse cx="786.4" cy="791.0" rx="12.0" ry="4.8" fill="#8f8377" opacity="0.35" filter="url(#blur1)"/><ellipse cx="786.4" cy="787.5" rx="13.4" ry="5.9" fill="url(#dropg)" opacity="0.85" stroke="#54483e" stroke-width="0.9" stroke-opacity="0.7"/><ellipse cx="787.8" cy="780.1" rx="4.2" ry="1.4" fill="#fbf8f4" opacity="0.95"/><ellipse cx="788.4" cy="791.0" rx="1.1" ry="0.8" fill="#ffffff" opacity="0.9"/><ellipse cx="827.5" cy="758.7" rx="11.8" ry="5.0" fill="#8f8377" opacity="0.35" filter="url(#blur1)"/><ellipse cx="827.5" cy="754.9" rx="13.1" ry="6.3" fill="url(#dropg)" opacity="0.85" stroke="#54483e" stroke-width="0.9" stroke-opacity="0.7"/><ellipse cx="827.4" cy="747.2" rx="4.6" ry="1.4" fill="#fbf8f4" opacity="0.95"/><ellipse cx="829.5" cy="758.7" rx="1.0" ry="0.8" fill="#ffffff" opacity="0.9"/><ellipse cx="841.8" cy="782.5" rx="6.7" ry="3.4" fill="#8f8377" opacity="0.35" filter="url(#blur1)"/><ellipse cx="841.8" cy="780.0" rx="7.5" ry="4.2" fill="url(#dropg)" opacity="0.85" stroke="#54483e" stroke-width="0.9" stroke-opacity="0.7"/><ellipse cx="841.2" cy="775.9" rx="2.2" ry="1.1" fill="#fbf8f4" opacity="0.95"/><ellipse cx="842.9" cy="782.5" rx="1.0" ry="0.8" fill="#ffffff" opacity="0.9"/><ellipse cx="943.0" cy="735.0" rx="9.6" ry="4.5" fill="#8f8377" opacity="0.35" filter="url(#blur1)"/><ellipse cx="943.0" cy="731.6" rx="10.7" ry="5.6" fill="url(#dropg)" opacity="0.85" stroke="#54483e" stroke-width="0.9" stroke-opacity="0.7"/><ellipse cx="940.8" cy="725.5" rx="4.2" ry="2.5" fill="#fbf8f4" opacity="0.95"/><ellipse cx="944.5" cy="735.0" rx="1.0" ry="0.8" fill="#ffffff" opacity="0.9"/><ellipse cx="956.4" cy="717.2" rx="7.0" ry="3.4" fill="#8f8377" opacity="0.35" filter="url(#blur1)"/><ellipse cx="956.4" cy="714.6" rx="7.8" ry="4.3" fill="url(#dropg)" opacity="0.85" stroke="#54483e" stroke-width="0.9" stroke-opacity="0.7"/><ellipse cx="953.2" cy="710.4" rx="3.2" ry="2.1" fill="#fbf8f4" opacity="0.95"/><ellipse cx="957.6" cy="717.2" rx="1.0" ry="0.8" fill="#ffffff" opacity="0.9"/><ellipse cx="869.1" cy="853.5" rx="22.4" ry="6.5" fill="#8f8377" opacity="0.35" filter="url(#blur1)"/><ellipse cx="869.1" cy="848.6" rx="24.9" ry="8.1" fill="url(#dropg)" opacity="0.85" stroke="#54483e" stroke-width="0.9" stroke-opacity="0.7"/><ellipse cx="870.0" cy="841.0" rx="8.0" ry="1.5" fill="#fbf8f4" opacity="0.95"/><ellipse cx="872.8" cy="853.5" rx="2.0" ry="1.0" fill="#ffffff" opacity="0.9"/><ellipse cx="901.4" cy="841.7" rx="7.3" ry="3.1" fill="#8f8377" opacity="0.35" filter="url(#blur1)"/><ellipse cx="901.4" cy="839.4" rx="8.1" ry="3.9" fill="url(#dropg)" opacity="0.85" stroke="#54483e" stroke-width="0.9" stroke-opacity="0.7"/><ellipse cx="901.0" cy="835.9" rx="3.0" ry="1.1" fill="#fbf8f4" opacity="0.95"/><ellipse cx="902.6" cy="841.7" rx="1.0" ry="0.8" fill="#ffffff" opacity="0.9"/><ellipse cx="964.6" cy="836.7" rx="9.3" ry="9.1" fill="#8f8377" opacity="0.35" filter="url(#blur1)"/><ellipse cx="964.6" cy="829.9" rx="10.4" ry="11.4" fill="url(#dropg)" opacity="0.85" stroke="#54483e" stroke-width="0.9" stroke-opacity="0.7"/><ellipse cx="965.0" cy="820.0" rx="7.0" ry="2.0" fill="#fbf8f4" opacity="0.95"/><ellipse cx="966.2" cy="836.7" rx="1.0" ry="1.4" fill="#ffffff" opacity="0.9"/><ellipse cx="793.4" cy="875.0" rx="18.9" ry="6.7" fill="#8f8377" opacity="0.35" filter="url(#blur1)"/><ellipse cx="793.4" cy="870.0" rx="21.0" ry="8.4" fill="url(#dropg)" opacity="0.85" stroke="#54483e" stroke-width="0.9" stroke-opacity="0.7"/><ellipse cx="798.3" cy="861.6" rx="6.3" ry="1.4" fill="#fbf8f4" opacity="0.95"/><ellipse cx="796.5" cy="875.0" rx="1.7" ry="1.0" fill="#ffffff" opacity="0.9"/><path d="M707.30,872.80 C708.28,870.42 718.85,861.74 722.00,860.20 C725.15,858.66 734.60,856.70 738.80,857.40 C743.00,858.10 762.60,863.70 764.00,867.20 C765.40,870.70 756.30,889.60 752.80,892.40 C749.30,895.20 733.06,896.04 729.00,895.20 C724.94,894.36 714.37,886.24 712.20,884.00 C710.03,881.76 706.32,875.18 707.30,872.80 Z" fill="#8c7e71" opacity="0.9"/><path d="M739,857.6 L752,859.5 L762,865.5 L760,868 L750,863 L740,861 Z" fill="#fbf8f4"/></svg></div>
<svg class="abs" style="left:129.80px;top:241.20px" width="56.80" height="56.80" viewBox="129.80 241.20 56.80 56.80"><circle cx="158.2" cy="269.6" r="27.099999999999998" fill="#fffaf2" opacity="0.8"/><circle cx="158.2" cy="269.6" r="26.4" fill="#ff7a00"/><clipPath id="cTL"><circle cx="158.2" cy="269.6" r="26.4"/></clipPath><g clip-path="url(#cTL)"><rect x="143.50" y="249.30" width="28.80" height="3.00" fill="#ffd7ad" /><rect x="144.20" y="252.00" width="2.60" height="41.00" fill="#fff6ea" /><rect x="168.80" y="252.00" width="2.60" height="41.00" fill="#fff6ea" /><rect x="146.80" y="267.40" width="22.00" height="2.80" fill="#fff6ea" /><rect x="146.80" y="284.40" width="22.00" height="1.80" fill="#fff6ea" /><path d="M147,253.5 L168.8,267.6 M168.8,253.5 L147,267.6 M147,270.2 L168.8,284.6 M168.8,270.2 L147,284.6" stroke="#fff6ea" stroke-width="2.1"/></g></svg>
<svg class="abs" style="left:606.60px;top:232.50px" width="56.80" height="56.80" viewBox="606.60 232.50 56.80 56.80"><circle cx="635.0" cy="260.9" r="27.099999999999998" fill="#fffaf2" opacity="0.8"/><circle cx="635.0" cy="260.9" r="26.4" fill="#ff7a00"/><circle cx="634.5" cy="259.5" r="14.85" fill="none" stroke="#fff6ea" stroke-width="4.7"/><circle cx="634.5" cy="259.5" r="12.4" fill="#ff7a00"/><path d="M636.2,274.5 L644.2,284.5" stroke="#fff6ea" stroke-width="1.05"/><path d="M638.1,273.6 L646.1,283.6" stroke="#fff6ea" stroke-width="1.05"/><path d="M640.0,272.7 L648.0,282.7" stroke="#fff6ea" stroke-width="1.05"/><path d="M641.9,271.8 L649.9,281.8" stroke="#fff6ea" stroke-width="1.05"/></svg>
<svg class="abs" style="left:19.60px;top:922.45px" width="57.10" height="57.10" viewBox="19.60 922.45 57.10 57.10"><circle cx="48.15" cy="951.0" r="27.25" fill="#fffaf2" opacity="0.8"/><circle cx="48.15" cy="951.0" r="26.55" fill="#ff7a00"/><clipPath id="cBL"><circle cx="48.15" cy="951.0" r="26.55"/></clipPath><g clip-path="url(#cBL)" fill="#fff6ea"><rect x="20.00" y="936.80" width="57.00" height="2.00" fill="#fff6ea" /><rect x="20.00" y="950.10" width="57.00" height="2.20" fill="#fff6ea" /><rect x="20.00" y="964.70" width="57.00" height="1.90" fill="#fff6ea" /><rect x="47.40" y="937.00" width="2.40" height="14.00" fill="#fff6ea" /><rect x="32.70" y="951.00" width="2.40" height="14.50" fill="#fff6ea" /><rect x="62.40" y="951.00" width="2.40" height="14.50" fill="#fff6ea" /></g></svg>
<svg class="abs" style="left:344.90px;top:932.20px" width="57.40" height="57.40" viewBox="344.90 932.20 57.40 57.40"><circle cx="373.6" cy="960.9" r="27.4" fill="#fffaf2" opacity="0.8"/><circle cx="373.6" cy="960.9" r="26.7" fill="#ff7a00"/><clipPath id="cBM"><circle cx="373.6" cy="960.9" r="26.7"/></clipPath><g clip-path="url(#cBM)"><path d="M361.6,930 L361.6,960 L370.6,963.3 L370.6,966.5 L364.6,969.6 L364.6,975.2 Q364.6,978.3 373.3,978.3 Q382,978.3 382,975.2 L382,969.6 L375.9,966.5 L375.9,963.3 L386.2,960 L386.2,930" fill="none" stroke="#fff6ea" stroke-width="2.2" stroke-linejoin="round"/></g></svg>
<svg class="abs" style="left:689.30px;top:922.30px" width="57.40" height="57.40" viewBox="689.30 922.30 57.40 57.40"><circle cx="718.0" cy="951.0" r="27.4" fill="#fffaf2" opacity="0.8"/><circle cx="718.0" cy="951.0" r="26.7" fill="#ff7a00"/><path d="M717.1,939.6 C714,945 710.4,950 710.4,954.6 C710.4,958.5 713.4,961.3 717.1,961.3 C720.8,961.3 723.8,958.5 723.8,954.6 C723.8,950 720.2,945 717.1,939.6 Z" fill="#fff6ea"/><path d="M728.2,934.9 C726.3,938.5 724,941.2 724,943.6 C724,946 725.9,947.6 728.2,947.6 C730.5,947.6 732.3,946 732.3,943.6 C732.3,941.2 730.1,938.5 728.2,934.9 Z" fill="#fff6ea"/><path d="M720,958.7 Q722.3,957.6 722.6,955" stroke="#ff7a00" stroke-width="1" fill="none"/><path d="M729.5,945.8 Q730.9,945 731,943.4" stroke="#ff7a00" stroke-width="0.8" fill="none"/><rect x="701.50" y="962.30" width="33.00" height="3.30" fill="#fff6ea" rx="1.6"/><path d="M702.8,950.6 q1.6,-1.2 2.6,0.4 q0.4,1.4 -1.4,1.8 q-1.6,0 -1.2,-2.2 Z M703.6,955.6 q2.5,-0.8 4.3,1.2 q1.3,1.5 2.3,3.5 q-2.8,-0.2 -4.6,-1.4 q-2.4,-1.4 -2,-3.3 Z M725.4,958.9 q1.2,-2.6 3.5,-3.6 q1.6,-0.6 2.8,-0.2 q-0.6,2.2 -3,3.2 q-1.6,0.6 -3.3,0.6 Z" fill="#fff6ea"/></svg>
<div class="t" id="t0" style="left:200.82px;top:247.47px;transform:scaleX(1.1115)">Double -X structure adds</div>
<div class="t" id="t1" style="left:195.79px;top:269.67px;transform:scaleX(1.1467)">additional stability.</div>
<div class="t" id="t2" style="left:673.82px;top:239.07px;transform:scaleX(1.1100)">Pre-drilled cable holes</div>
<div class="t" id="t3" style="left:673.74px;top:260.87px;transform:scaleX(1.1120)">prevent cables from</div>
<div class="t" id="t4" style="left:673.74px;top:283.67px;transform:scaleX(1.1130)">becoming messy and dusty.</div>
<div class="t" id="t5" style="left:86.86px;top:929.47px;transform:scaleX(1.0969)">Large storage space</div>
<div class="t" id="t6" style="left:86.87px;top:951.67px;transform:scaleX(1.0876)">is capable of housing</div>
<div class="t" id="t7" style="left:86.83px;top:974.07px;transform:scaleX(1.1213)">more items.</div>
<div class="t" id="t8" style="left:411.83px;top:938.67px;transform:scaleX(1.1214)">Adjustable protective</div>
<div class="t" id="t9" style="left:412.96px;top:961.27px;transform:scaleX(1.0988)">feet help protect the floor.</div>
<div class="t" id="t10" style="left:755.77px;top:929.47px;transform:scaleX(1.1158)">Melamine board is</div>
<div class="t" id="t11" style="left:755.76px;top:951.67px;transform:scaleX(1.1179)">resistant to water</div>
<div class="t" id="t12" style="left:755.82px;top:973.67px;transform:scaleX(1.1101)">and easy to clean.</div>
</body></html>
